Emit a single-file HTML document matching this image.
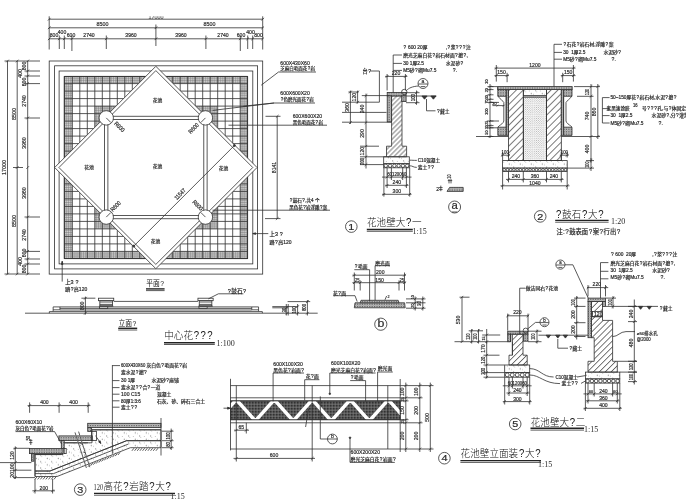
<!DOCTYPE html>
<html><head><meta charset="utf-8"><title>CAD</title>
<style>
html,body{margin:0;padding:0;background:#fff;}
svg{display:block;filter:grayscale(1);}
.d line,.d polyline,.d polygon,.d rect,.d circle,.d path{stroke:#303030;stroke-width:0.8;}
svg text{font-family:"Liberation Sans","Noto Sans CJK SC",sans-serif;fill:#2a2a2a;stroke:#2a2a2a;stroke-width:0.2;}
svg text.ti{font-weight:300;fill:#111;stroke:none;}
svg text.ti2{fill:#111;stroke:none;}
svg text.sr{stroke:none;font-family:"Liberation Serif","Noto Serif CJK SC",serif;}
.d .t{stroke-width:1.4;stroke:#222;}
.d .g line{stroke:#333;stroke-width:0.82;}
.d .ns{stroke:none;}
</style></head><body>
<svg width="686" height="500" viewBox="0 0 686 500">
<defs>

<pattern id="fine" width="1.875" height="1.875" patternUnits="userSpaceOnUse" x="64.3" y="76.4">
<rect x="0" y="0" width="1.875" height="1.875" fill="#d2d2d2" stroke="none"/>
<path d="M0 0.3H1.875M0.3 0V1.875" stroke="#707070" stroke-width="0.5" fill="none"/>
</pattern>
<pattern id="diag" width="3.4" height="3.4" patternUnits="userSpaceOnUse" patternTransform="rotate(-45)">
<line x1="0" y1="1.7" x2="3.4" y2="1.7" stroke="#3c3c3c" stroke-width="0.68"/>
</pattern>
<pattern id="diag2" width="4.9" height="4.9" patternUnits="userSpaceOnUse" patternTransform="rotate(-45)">
<line x1="0" y1="2.45" x2="4.9" y2="2.45" stroke="#3c3c3c" stroke-width="0.68"/>
</pattern>
<pattern id="diag5" width="4.2" height="4.2" patternUnits="userSpaceOnUse" patternTransform="rotate(-45)">
<line x1="0" y1="2.1" x2="4.2" y2="2.1" stroke="#3c3c3c" stroke-width="0.68"/>
</pattern>
<pattern id="dots" width="1.6" height="1.6" patternUnits="userSpaceOnUse">
<rect x="0" y="0" width="1.6" height="1.6" fill="#e4e4e4" stroke="none"/>
<circle cx="0.5" cy="0.5" r="0.45" fill="#555" stroke="none"/>
</pattern>
<pattern id="dots2" width="2.2" height="2.2" patternUnits="userSpaceOnUse">
<circle cx="0.6" cy="0.6" r="0.4" fill="#777" stroke="none"/>
<circle cx="1.7" cy="1.7" r="0.4" fill="#777" stroke="none"/>
</pattern>
<pattern id="conc" width="11" height="6.4" patternUnits="userSpaceOnUse">
<circle cx="1.2" cy="1.5" r="0.35" fill="#444" stroke="none"/>
<circle cx="5.6" cy="4.6" r="0.35" fill="#444" stroke="none"/>
<circle cx="8.9" cy="2.2" r="0.3" fill="#444" stroke="none"/>
<path d="M3 3.6l1 .5l-.9 .4zM7 .8l.9 -.3l.1 .8z" fill="none" stroke="#555" stroke-width="0.35"/>
</pattern>
<pattern id="grav" width="3" height="3" patternUnits="userSpaceOnUse">
<circle cx="1.5" cy="1.5" r="1.1" fill="none" stroke="#444" stroke-width="0.5"/>
</pattern>
<pattern id="dark" width="1.5" height="1.5" patternUnits="userSpaceOnUse">
<rect x="0" y="0" width="1.5" height="1.5" fill="#787878" stroke="none"/>
<circle cx="0.45" cy="0.45" r="0.58" fill="#1c1c1c" stroke="none"/>
</pattern>
<clipPath id="c17"><rect x="130" y="16.3" width="60" height="5"/></clipPath>
<clipPath id="zz"><rect x="230.5" y="400.9" width="169.7" height="18.8"/></clipPath>
<pattern id="stone" width="1.7" height="1.7" patternUnits="userSpaceOnUse">
<rect x="0" y="0" width="1.7" height="1.7" fill="#cfcfcf" stroke="none"/>
<circle cx="0.5" cy="0.5" r="0.5" fill="#3a3a3a" stroke="none"/>
<circle cx="1.35" cy="1.3" r="0.3" fill="#555" stroke="none"/>
</pattern>

</defs>
<g class="d">
<line x1="49.2" y1="19.2" x2="262.7" y2="19.2"/>
<line x1="49.2" y1="27.8" x2="262.7" y2="27.8"/>
<line x1="49.2" y1="38.8" x2="262.7" y2="38.8"/>
<line x1="49.2" y1="16.3" x2="49.2" y2="49.5"/>
<line x1="262.7" y1="16.3" x2="262.7" y2="49.5"/>
<line x1="155.9" y1="24.5" x2="155.9" y2="46"/>
<line x1="59.3" y1="35.5" x2="59.3" y2="49"/>
<line x1="64.3" y1="35.5" x2="64.3" y2="49"/>
<line x1="71.9" y1="35.5" x2="71.9" y2="51"/>
<line x1="106.3" y1="35.5" x2="106.3" y2="49"/>
<line x1="205.9" y1="35.5" x2="205.9" y2="49"/>
<line x1="240.3" y1="35.5" x2="240.3" y2="51"/>
<line x1="247.7" y1="35.5" x2="247.7" y2="49"/>
<line x1="252.7" y1="35.5" x2="252.7" y2="49"/>
<line x1="47.9" y1="20.5" x2="50.5" y2="17.9" stroke-width="1.1"/>
<line x1="47.9" y1="29.1" x2="50.5" y2="26.5" stroke-width="1.1"/>
<line x1="47.9" y1="40.1" x2="50.5" y2="37.5" stroke-width="1.1"/>
<line x1="261.4" y1="20.5" x2="264" y2="17.9" stroke-width="1.1"/>
<line x1="261.4" y1="29.1" x2="264" y2="26.5" stroke-width="1.1"/>
<line x1="261.4" y1="40.1" x2="264" y2="37.5" stroke-width="1.1"/>
<line x1="154.6" y1="29.1" x2="157.2" y2="26.5" stroke-width="1.1"/>
<line x1="58" y1="40.1" x2="60.6" y2="37.5" stroke-width="1.1"/>
<line x1="63" y1="40.1" x2="65.6" y2="37.5" stroke-width="1.1"/>
<line x1="70.6" y1="40.1" x2="73.2" y2="37.5" stroke-width="1.1"/>
<line x1="105" y1="40.1" x2="107.6" y2="37.5" stroke-width="1.1"/>
<line x1="154.6" y1="40.1" x2="157.2" y2="37.5" stroke-width="1.1"/>
<line x1="204.6" y1="40.1" x2="207.2" y2="37.5" stroke-width="1.1"/>
<line x1="239" y1="40.1" x2="241.6" y2="37.5" stroke-width="1.1"/>
<line x1="246.4" y1="40.1" x2="249" y2="37.5" stroke-width="1.1"/>
<line x1="251.4" y1="40.1" x2="254" y2="37.5" stroke-width="1.1"/>
<g clip-path="url(#c17)" opacity="0.75">
<text transform="translate(156 18.8) scale(0.86 1)" font-size="6.27" text-anchor="middle">17000</text>
</g>
<text transform="translate(102.5 26.3) scale(0.86 1)" font-size="6.27" text-anchor="middle">8500</text>
<text transform="translate(209.5 26.3) scale(0.86 1)" font-size="6.27" text-anchor="middle">8500</text>
<text transform="translate(54 37.3) scale(0.86 1)" font-size="5.93" text-anchor="middle">800</text>
<text transform="translate(62 33.6) scale(0.86 1)" font-size="5.93" text-anchor="middle">400</text>
<text transform="translate(71 37.3) scale(0.86 1)" font-size="5.93" text-anchor="middle">600</text>
<text transform="translate(89 37.3) scale(0.86 1)" font-size="5.93" text-anchor="middle">2740</text>
<text transform="translate(131 37.3) scale(0.86 1)" font-size="5.93" text-anchor="middle">3960</text>
<text transform="translate(181 37.3) scale(0.86 1)" font-size="5.93" text-anchor="middle">3960</text>
<text transform="translate(223 37.3) scale(0.86 1)" font-size="5.93" text-anchor="middle">2740</text>
<text transform="translate(241 37.3) scale(0.86 1)" font-size="5.93" text-anchor="middle">600</text>
<text transform="translate(250.5 33.6) scale(0.86 1)" font-size="5.93" text-anchor="middle">400</text>
<text transform="translate(258.5 37.3) scale(0.86 1)" font-size="5.93" text-anchor="middle">800</text>
<line x1="7.5" y1="61" x2="7.5" y2="274"/>
<line x1="17.2" y1="61" x2="17.2" y2="274"/>
<line x1="27.7" y1="61" x2="27.7" y2="274"/>
<line x1="4.5" y1="61" x2="40" y2="61"/>
<line x1="4.5" y1="274" x2="40" y2="274"/>
<line x1="13" y1="167.5" x2="23" y2="167.5"/>
<line x1="24.5" y1="71" x2="40" y2="71"/>
<line x1="24.5" y1="76" x2="40" y2="76"/>
<line x1="24.5" y1="83.6" x2="40" y2="83.6"/>
<line x1="24.5" y1="118" x2="40" y2="118"/>
<line x1="24.5" y1="217" x2="40" y2="217"/>
<line x1="24.5" y1="251.4" x2="40" y2="251.4"/>
<line x1="24.5" y1="259" x2="40" y2="259"/>
<line x1="24.5" y1="264" x2="40" y2="264"/>
<line x1="6.2" y1="62.3" x2="8.8" y2="59.7" stroke-width="1.1"/>
<line x1="15.9" y1="62.3" x2="18.5" y2="59.7" stroke-width="1.1"/>
<line x1="26.4" y1="62.3" x2="29" y2="59.7" stroke-width="1.1"/>
<line x1="6.2" y1="275.3" x2="8.8" y2="272.7" stroke-width="1.1"/>
<line x1="15.9" y1="275.3" x2="18.5" y2="272.7" stroke-width="1.1"/>
<line x1="26.4" y1="275.3" x2="29" y2="272.7" stroke-width="1.1"/>
<line x1="15.9" y1="168.8" x2="18.5" y2="166.2" stroke-width="1.1"/>
<line x1="26.4" y1="72.3" x2="29" y2="69.7" stroke-width="1.1"/>
<line x1="26.4" y1="77.3" x2="29" y2="74.7" stroke-width="1.1"/>
<line x1="26.4" y1="84.9" x2="29" y2="82.3" stroke-width="1.1"/>
<line x1="26.4" y1="119.3" x2="29" y2="116.7" stroke-width="1.1"/>
<line x1="26.4" y1="168.8" x2="29" y2="166.2" stroke-width="1.1"/>
<line x1="26.4" y1="218.3" x2="29" y2="215.7" stroke-width="1.1"/>
<line x1="26.4" y1="252.7" x2="29" y2="250.1" stroke-width="1.1"/>
<line x1="26.4" y1="260.3" x2="29" y2="257.7" stroke-width="1.1"/>
<line x1="26.4" y1="265.3" x2="29" y2="262.7" stroke-width="1.1"/>
<text transform="translate(6 167.5) rotate(-90) scale(0.86 1)" font-size="6.27" text-anchor="middle">17000</text>
<text transform="translate(15.7 114) rotate(-90) scale(0.86 1)" font-size="6.27" text-anchor="middle">8500</text>
<text transform="translate(15.7 221) rotate(-90) scale(0.86 1)" font-size="6.27" text-anchor="middle">8500</text>
<text transform="translate(26.2 66) rotate(-90) scale(0.86 1)" font-size="5.93" text-anchor="middle">800</text>
<text transform="translate(22.4 73.5) rotate(-90) scale(0.86 1)" font-size="5.93" text-anchor="middle">400</text>
<text transform="translate(26.2 82) rotate(-90) scale(0.86 1)" font-size="5.93" text-anchor="middle">600</text>
<text transform="translate(26.2 101) rotate(-90) scale(0.86 1)" font-size="5.93" text-anchor="middle">2740</text>
<text transform="translate(26.2 143) rotate(-90) scale(0.86 1)" font-size="5.93" text-anchor="middle">3960</text>
<text transform="translate(26.2 193) rotate(-90) scale(0.86 1)" font-size="5.93" text-anchor="middle">3960</text>
<text transform="translate(26.2 235) rotate(-90) scale(0.86 1)" font-size="5.93" text-anchor="middle">2740</text>
<text transform="translate(26.2 253) rotate(-90) scale(0.86 1)" font-size="5.93" text-anchor="middle">600</text>
<text transform="translate(22.4 261.5) rotate(-90) scale(0.86 1)" font-size="5.93" text-anchor="middle">400</text>
<text transform="translate(26.2 269) rotate(-90) scale(0.86 1)" font-size="5.93" text-anchor="middle">800</text>
<rect x="49.2" y="61" width="213.5" height="213.1" fill="none"/>
<rect x="54.6" y="65.8" width="203" height="203.1" fill="none"/>
<rect x="59.1" y="71" width="193.7" height="192.9" fill="none"/>
<g class="g">
<path d="M64.3 76.4H247.6V258.6H64.3ZM72.3 83.6V251.4H240.2V83.6Z" fill="url(#fine)" fill-rule="evenodd" stroke="none" class="ns"/>
<path d="M94.8 106.1H217.6V228.8H94.8ZM102.3 113.6V221.3H210.1V113.6Z" fill="url(#fine)" fill-rule="evenodd" stroke="none" class="ns"/>
<line x1="64.3" y1="76.4" x2="64.3" y2="258.6"/>
<line x1="72.3" y1="76.4" x2="72.3" y2="258.6"/>
<line x1="79.8" y1="76.4" x2="79.8" y2="258.6"/>
<line x1="87.3" y1="76.4" x2="87.3" y2="258.6"/>
<line x1="94.8" y1="76.4" x2="94.8" y2="258.6"/>
<line x1="102.3" y1="76.4" x2="102.3" y2="258.6"/>
<line x1="109.8" y1="76.4" x2="109.8" y2="258.6"/>
<line x1="117.3" y1="76.4" x2="117.3" y2="258.6"/>
<line x1="124.8" y1="76.4" x2="124.8" y2="258.6"/>
<line x1="132.3" y1="76.4" x2="132.3" y2="258.6"/>
<line x1="139.8" y1="76.4" x2="139.8" y2="258.6"/>
<line x1="147.3" y1="76.4" x2="147.3" y2="258.6"/>
<line x1="154.8" y1="76.4" x2="154.8" y2="258.6"/>
<line x1="247.6" y1="76.4" x2="247.6" y2="258.6"/>
<line x1="240.2" y1="76.4" x2="240.2" y2="258.6"/>
<line x1="232.7" y1="76.4" x2="232.7" y2="258.6"/>
<line x1="225.2" y1="76.4" x2="225.2" y2="258.6"/>
<line x1="217.7" y1="76.4" x2="217.7" y2="258.6"/>
<line x1="210.2" y1="76.4" x2="210.2" y2="258.6"/>
<line x1="202.7" y1="76.4" x2="202.7" y2="258.6"/>
<line x1="195.2" y1="76.4" x2="195.2" y2="258.6"/>
<line x1="187.7" y1="76.4" x2="187.7" y2="258.6"/>
<line x1="180.2" y1="76.4" x2="180.2" y2="258.6"/>
<line x1="172.7" y1="76.4" x2="172.7" y2="258.6"/>
<line x1="165.2" y1="76.4" x2="165.2" y2="258.6"/>
<line x1="157.7" y1="76.4" x2="157.7" y2="258.6"/>
<line x1="64.3" y1="76.4" x2="247.6" y2="76.4"/>
<line x1="64.3" y1="83.6" x2="247.6" y2="83.6"/>
<line x1="64.3" y1="91.1" x2="247.6" y2="91.1"/>
<line x1="64.3" y1="98.6" x2="247.6" y2="98.6"/>
<line x1="64.3" y1="106.1" x2="247.6" y2="106.1"/>
<line x1="64.3" y1="113.6" x2="247.6" y2="113.6"/>
<line x1="64.3" y1="121.1" x2="247.6" y2="121.1"/>
<line x1="64.3" y1="128.6" x2="247.6" y2="128.6"/>
<line x1="64.3" y1="136.1" x2="247.6" y2="136.1"/>
<line x1="64.3" y1="143.6" x2="247.6" y2="143.6"/>
<line x1="64.3" y1="151.1" x2="247.6" y2="151.1"/>
<line x1="64.3" y1="158.6" x2="247.6" y2="158.6"/>
<line x1="64.3" y1="166.1" x2="247.6" y2="166.1"/>
<line x1="64.3" y1="258.6" x2="247.6" y2="258.6"/>
<line x1="64.3" y1="251.4" x2="247.6" y2="251.4"/>
<line x1="64.3" y1="243.9" x2="247.6" y2="243.9"/>
<line x1="64.3" y1="236.4" x2="247.6" y2="236.4"/>
<line x1="64.3" y1="228.9" x2="247.6" y2="228.9"/>
<line x1="64.3" y1="221.4" x2="247.6" y2="221.4"/>
<line x1="64.3" y1="213.9" x2="247.6" y2="213.9"/>
<line x1="64.3" y1="206.4" x2="247.6" y2="206.4"/>
<line x1="64.3" y1="198.9" x2="247.6" y2="198.9"/>
<line x1="64.3" y1="191.4" x2="247.6" y2="191.4"/>
<line x1="64.3" y1="183.9" x2="247.6" y2="183.9"/>
<line x1="64.3" y1="176.4" x2="247.6" y2="176.4"/>
<line x1="64.3" y1="168.9" x2="247.6" y2="168.9"/>
</g>
<rect x="64.3" y="76.4" width="183.3" height="182.2" fill="none"/>
<polygon points="155.85,66.3 257.05,167.5 155.85,268.7 54.65,167.5" fill="#fff"/>
<polygon points="155.85,70.6 252.75,167.5 155.85,264.4 58.95,167.5" fill="none"/>
<rect x="104.6" y="116.25" width="102.5" height="102.5" fill="none"/>
<rect x="107.9" y="119.55" width="95.9" height="95.9" fill="none"/>
<circle cx="106.25" cy="117.9" r="7.2" fill="#fff"/>
<circle cx="106.25" cy="217.1" r="7.2" fill="#fff"/>
<circle cx="205.45" cy="117.9" r="7.2" fill="#fff"/>
<circle cx="205.45" cy="217.1" r="7.2" fill="#fff"/>
<line x1="106.25" y1="117.9" x2="110.85" y2="122.5" stroke-width="0.9"/>
<text transform="translate(113.75 124) rotate(45) scale(0.86 1)" font-size="5.93">R600</text>
<line x1="205.45" y1="117.9" x2="200.85" y2="122.5" stroke-width="0.9"/>
<text transform="translate(199.35 125.6) rotate(-45) scale(0.86 1)" font-size="5.93" text-anchor="end">R600</text>
<line x1="106.25" y1="217.1" x2="110.85" y2="212.5" stroke-width="0.9"/>
<text transform="translate(112.75 212) rotate(-45) scale(0.86 1)" font-size="5.93">R600</text>
<line x1="205.45" y1="217.1" x2="200.85" y2="212.5" stroke-width="0.9"/>
<text transform="translate(200.55 211) rotate(45) scale(0.86 1)" font-size="5.93" text-anchor="end">R600</text>
<text transform="translate(157.5 102)" font-size="4.8" text-anchor="middle">花池</text>
<text transform="translate(89 169.2)" font-size="4.8" text-anchor="middle">花池</text>
<text transform="translate(157.5 168.3)" font-size="4.8" text-anchor="middle">花池</text>
<text transform="translate(223.5 169.5)" font-size="4.8" text-anchor="middle">花池</text>
<text transform="translate(155.5 243)" font-size="4.8" text-anchor="middle">花池</text>
<line x1="133.6" y1="246.3" x2="234.6" y2="145.3"/>
<circle cx="133.8" cy="246.1" r="1" fill="#333" stroke="none"/>
<circle cx="234.4" cy="145.5" r="1" fill="#333" stroke="none"/>
<text transform="translate(181.5 195.5) rotate(-45) scale(0.86 1)" font-size="5.93" text-anchor="middle">11547</text>
<line x1="277.2" y1="116.3" x2="277.2" y2="218.6"/>
<line x1="265.5" y1="116.3" x2="280.5" y2="116.3"/>
<line x1="265" y1="218.6" x2="280.5" y2="218.6"/>
<line x1="275.9" y1="117.6" x2="278.5" y2="115" stroke-width="1.1"/>
<line x1="275.9" y1="219.9" x2="278.5" y2="217.3" stroke-width="1.1"/>
<text transform="translate(275.7 167.5) rotate(-90) scale(0.86 1)" font-size="5.93" text-anchor="middle">8141</text>
<text transform="translate(280.3 65.2) scale(0.86 1)" font-size="5.93">600X430X60</text>
<text transform="translate(280.3 70.4)" font-size="4.5">芝麻白毛面花<tspan dx="0.38">?</tspan><tspan dx="0.38">岩</tspan></text>
<line x1="278.5" y1="72" x2="316" y2="72"/>
<line x1="278.5" y1="72" x2="261.2" y2="85.2"/>
<text transform="translate(280.3 95.2) scale(0.86 1)" font-size="5.93">600X600X20</text>
<text transform="translate(280.3 100.6)" font-size="4.5"><tspan dx="0.38">?</tspan><tspan dx="0.38">色</tspan>磨光面花<tspan dx="0.38">?</tspan><tspan dx="0.38">岩</tspan></text>
<line x1="274" y1="103" x2="315" y2="103"/>
<line x1="274" y1="103" x2="212.7" y2="110.4"/>
<line x1="274" y1="103" x2="243.3" y2="106.2"/>
<text transform="translate(292.7 118.2) scale(0.86 1)" font-size="5.93">600X600X20</text>
<text transform="translate(292.7 123.6)" font-size="4.5">黑色毛面花<tspan dx="0.38">?</tspan><tspan dx="0.38">岩</tspan></text>
<line x1="228.5" y1="125.2" x2="327" y2="125.2"/>
<text transform="translate(289.3 201.8)" font-size="4.6"><tspan dx="0.39">?</tspan><tspan dx="0.39">鼓</tspan>石<tspan dx="0.39">?</tspan><tspan dx="0.39">,</tspan>共4 个</text>
<text transform="translate(289.3 209.4)" font-size="4.5">黑色花<tspan dx="0.38">?</tspan><tspan dx="0.38">岩</tspan>浮雕<tspan dx="0.38">?</tspan><tspan dx="0.38">案</tspan></text>
<line x1="212.5" y1="210.2" x2="330" y2="210.2"/>
<text transform="translate(269.5 236.3)" font-size="5.4">上3 <tspan dx="0.46">?</tspan></text>
<text transform="translate(269.5 243.8)" font-size="5">踏<tspan dx="0.43">?</tspan><tspan dx="0.43">高</tspan>120</text>
<line x1="252.8" y1="233.6" x2="268.3" y2="233.6"/>
<polygon points="252.8,233.6 255.6,232.8 255.6,234.4" fill="#333"/>
<line x1="62.2" y1="261.4" x2="62.2" y2="281.6"/>
<polygon points="62.2,261.2 61.4,264.4 63,264.4" fill="#333"/>
<text transform="translate(65.2 283.8)" font-size="5.4">上3 <tspan dx="0.46">?</tspan></text>
<text transform="translate(65.2 291)" font-size="5">踏<tspan dx="0.43">?</tspan><tspan dx="0.43">高</tspan>120</text>
<text transform="translate(146.2 286.3) scale(0.89 1)" x="0 7.64 15.84" font-size="7.62" class="ti2">平面?</text>
<line x1="146" y1="288.9" x2="164.6" y2="288.9" class="t"/>
<line x1="146" y1="290.6" x2="164.6" y2="290.6"/>
<line x1="25" y1="313.2" x2="317.7" y2="313.2" stroke-width="1.1"/>
<polyline points="262.35,313.2 262.35,311.6 258.55,311.6 258.55,306.9 251.75,306.9 251.75,309.8 258.55,309.8" fill="none"/>
<polyline points="49.35,313.2 49.35,311.6 53.15,311.6 53.15,306.9 59.95,306.9 59.95,309.8 53.15,309.8" fill="none"/>
<line x1="53.15" y1="311.6" x2="258.55" y2="311.6"/>
<line x1="59.95" y1="306.9" x2="251.75" y2="306.9" stroke-width="0.7"/>
<line x1="59.95" y1="308.4" x2="251.75" y2="308.4" stroke-width="0.7"/>
<line x1="59.95" y1="310" x2="251.75" y2="310" stroke-width="0.7"/>
<line x1="113.75" y1="301.4" x2="197.95" y2="301.4"/>
<rect x="98.55" y="298.2" width="15.2" height="2.5" fill="#fff"/>
<rect x="99.85" y="300.7" width="12.6" height="5.1" fill="#fff"/>
<line x1="99.85" y1="302" x2="112.45" y2="302"/>
<line x1="99.85" y1="304.4" x2="112.45" y2="304.4" stroke-width="0.6"/>
<line x1="98.95" y1="306.2" x2="113.35" y2="306.2" stroke-width="1.4"/>
<rect x="99.55" y="306.9" width="8.2" height="1.5" fill="#fff"/>
<rect x="197.95" y="298.2" width="15.2" height="2.5" fill="#fff"/>
<rect x="199.25" y="300.7" width="12.6" height="5.1" fill="#fff"/>
<line x1="199.25" y1="302" x2="211.85" y2="302"/>
<line x1="199.25" y1="304.4" x2="211.85" y2="304.4" stroke-width="0.6"/>
<line x1="198.35" y1="306.2" x2="212.75" y2="306.2" stroke-width="1.4"/>
<rect x="198.95" y="306.9" width="8.2" height="1.5" fill="#fff"/>
<line x1="85.4" y1="296.6" x2="85.4" y2="314.6"/>
<line x1="81.4" y1="298.2" x2="95.4" y2="298.2"/>
<line x1="84.1" y1="299.5" x2="86.7" y2="296.9" stroke-width="1.1"/>
<line x1="84.1" y1="314.5" x2="86.7" y2="311.9" stroke-width="1.1"/>
<text transform="translate(83.9 305.8) rotate(-90) scale(0.86 1)" font-size="5.93" text-anchor="middle">800</text>
<text transform="translate(227.2 293)" font-size="5.6"><tspan dx="0.48">?</tspan><tspan dx="0.48">鼓</tspan>石<tspan dx="0.48">?</tspan></text>
<polyline points="208.3,298.9 218.4,293.8 243.4,293.8" fill="none"/>
<line x1="287.6" y1="301.6" x2="310.2" y2="301.6"/>
<line x1="272.3" y1="306.6" x2="298.2" y2="306.6"/>
<line x1="272.3" y1="307.8" x2="288" y2="307.8"/>
<line x1="286.3" y1="304" x2="286.3" y2="315.5"/>
<line x1="288.2" y1="304" x2="288.2" y2="315.5"/>
<line x1="297.6" y1="304" x2="297.6" y2="315.5"/>
<line x1="307.4" y1="300" x2="307.4" y2="315.5"/>
<line x1="306.1" y1="302.9" x2="308.7" y2="300.3" stroke-width="1.1"/>
<line x1="306.1" y1="314.5" x2="308.7" y2="311.9" stroke-width="1.1"/>
<line x1="296.3" y1="307.9" x2="298.9" y2="305.3" stroke-width="1.1"/>
<line x1="296.3" y1="314.5" x2="298.9" y2="311.9" stroke-width="1.1"/>
<line x1="285.9" y1="314.5" x2="288.5" y2="311.9" stroke-width="1.1"/>
<line x1="285.9" y1="308.5" x2="288.5" y2="305.9" stroke-width="1.1"/>
<text transform="translate(285.6 310) rotate(-90) scale(0.86 1)" font-size="5.02" text-anchor="middle">30</text>
<text transform="translate(296 310) rotate(-90) scale(0.86 1)" font-size="5.02" text-anchor="middle">100</text>
<text transform="translate(305.8 307.5) rotate(-90) scale(0.86 1)" font-size="5.02" text-anchor="middle">800</text>
<text transform="translate(118.4 326.4) scale(0.89 1)" x="0 7.64 15.84" font-size="7.62" class="ti2">立面?</text>
<line x1="118.2" y1="328.3" x2="137.2" y2="328.3" class="t"/>
<line x1="118.2" y1="330" x2="137.2" y2="330"/>
<text transform="translate(164.2 338.8) scale(0.89 1)" x="0 10.79 21.57 33.15 40.7 48.25" font-size="10.75" class="ti">中心花???</text>
<line x1="164" y1="342.8" x2="214.8" y2="342.8" class="t"/>
<line x1="164" y1="344.5" x2="214.8" y2="344.5"/>
<text transform="translate(216.6 346.4)" font-size="8" class="sr">1:100</text>
<polygon points="35,454.5 63,454.5 63,442.8 92,442.8 92,429.8 161,429.8 161,440.7 126.6,440.7 50,471 35,471" fill="url(#conc)"/>
<polygon points="35,471 50,471 126.6,440.7 161,440.7 161,447.7 130.3,447.7 57,476.5 35,476.5" fill="url(#conc)"/>
<polyline points="35,473.6 53.5,473.6 128.5,444" fill="none" stroke-width="0.5"/>
<line x1="37" y1="476.8" x2="34.92" y2="479.4" stroke-width="0.6"/>
<line x1="39.71" y1="476.8" x2="37.63" y2="479.4" stroke-width="0.6"/>
<line x1="42.43" y1="476.8" x2="40.35" y2="479.4" stroke-width="0.6"/>
<line x1="45.14" y1="476.8" x2="43.06" y2="479.4" stroke-width="0.6"/>
<line x1="47.86" y1="476.8" x2="45.78" y2="479.4" stroke-width="0.6"/>
<line x1="50.57" y1="476.8" x2="48.49" y2="479.4" stroke-width="0.6"/>
<line x1="53.29" y1="476.8" x2="51.21" y2="479.4" stroke-width="0.6"/>
<line x1="56" y1="476.8" x2="53.92" y2="479.4" stroke-width="0.6"/>
<line x1="90" y1="464.2" x2="87.92" y2="466.8" stroke-width="0.6"/>
<line x1="92.73" y1="463.13" x2="90.65" y2="465.73" stroke-width="0.6"/>
<line x1="95.45" y1="462.05" x2="93.37" y2="464.65" stroke-width="0.6"/>
<line x1="98.18" y1="460.98" x2="96.1" y2="463.58" stroke-width="0.6"/>
<line x1="100.91" y1="459.91" x2="98.83" y2="462.51" stroke-width="0.6"/>
<line x1="103.64" y1="458.84" x2="101.56" y2="461.44" stroke-width="0.6"/>
<line x1="106.36" y1="457.76" x2="104.28" y2="460.36" stroke-width="0.6"/>
<line x1="109.09" y1="456.69" x2="107.01" y2="459.29" stroke-width="0.6"/>
<line x1="111.82" y1="455.62" x2="109.74" y2="458.22" stroke-width="0.6"/>
<line x1="114.55" y1="454.55" x2="112.47" y2="457.15" stroke-width="0.6"/>
<line x1="117.27" y1="453.47" x2="115.19" y2="456.07" stroke-width="0.6"/>
<line x1="120" y1="452.4" x2="117.92" y2="455" stroke-width="0.6"/>
<line x1="134" y1="448.2" x2="131.92" y2="450.8" stroke-width="0.6"/>
<line x1="136.67" y1="448.2" x2="134.59" y2="450.8" stroke-width="0.6"/>
<line x1="139.33" y1="448.2" x2="137.25" y2="450.8" stroke-width="0.6"/>
<line x1="142" y1="448.2" x2="139.92" y2="450.8" stroke-width="0.6"/>
<line x1="144.67" y1="448.2" x2="142.59" y2="450.8" stroke-width="0.6"/>
<line x1="147.33" y1="448.2" x2="145.25" y2="450.8" stroke-width="0.6"/>
<line x1="150" y1="448.2" x2="147.92" y2="450.8" stroke-width="0.6"/>
<line x1="152.67" y1="448.2" x2="150.59" y2="450.8" stroke-width="0.6"/>
<line x1="155.33" y1="448.2" x2="153.25" y2="450.8" stroke-width="0.6"/>
<line x1="158" y1="448.2" x2="155.92" y2="450.8" stroke-width="0.6"/>
<rect x="29.4" y="448.4" width="33.6" height="5.2" fill="url(#stone)"/>
<rect x="58.9" y="435.9" width="33.4" height="4.7" fill="url(#stone)"/>
<rect x="87.7" y="423.3" width="73.3" height="4.3" fill="url(#stone)"/>
<line x1="33.9" y1="454.6" x2="61.3" y2="454.6" stroke-width="0.5"/>
<line x1="64.2" y1="442.8" x2="88" y2="442.8" stroke-width="0.5"/>
<line x1="91.5" y1="429.8" x2="161" y2="429.8" stroke-width="0.5"/>
<rect x="31.4" y="453.6" width="2.5" height="7.6" fill="url(#stone)"/>
<rect x="61.3" y="440.6" width="2.9" height="7.8" fill="url(#stone)"/>
<rect x="87.7" y="427.6" width="3.8" height="3.8" fill="url(#stone)"/>
<line x1="35" y1="454.5" x2="35" y2="476.4"/>
<rect x="91.5" y="431.4" width="5" height="9.2" fill="none"/>
<rect x="64.2" y="448.4" width="2" height="5.2" fill="none"/>
<path d="M75 432.4L86.4 468M78.6 431.6L89.8 467.2" fill="none" stroke-width="2.6" style="stroke:#fff"/>
<line x1="75" y1="432.4" x2="86.4" y2="468"/>
<line x1="78.6" y1="431.6" x2="89.8" y2="467.2"/>
<line x1="80.5" y1="443.5" x2="83" y2="444.5"/>
<line x1="83.2" y1="452" x2="85.6" y2="453"/>
<line x1="161" y1="418" x2="161" y2="455.5"/>
<line x1="171.2" y1="428.6" x2="171.2" y2="450"/>
<line x1="162" y1="431.2" x2="173.5" y2="431.2"/>
<line x1="169.9" y1="432.5" x2="172.5" y2="429.9" stroke-width="1.1"/>
<line x1="162" y1="440.7" x2="173.5" y2="440.7"/>
<line x1="169.9" y1="442" x2="172.5" y2="439.4" stroke-width="1.1"/>
<line x1="162" y1="447.7" x2="173.5" y2="447.7"/>
<line x1="169.9" y1="449" x2="172.5" y2="446.4" stroke-width="1.1"/>
<text transform="translate(169.6 436) rotate(-90) scale(0.86 1)" font-size="4.79" text-anchor="middle">100</text>
<text transform="translate(169.6 444.4) rotate(-90) scale(0.86 1)" font-size="4.79" text-anchor="middle">80</text>
<line x1="96.8" y1="437.5" x2="100.6" y2="443.2"/>
<polygon points="100.8,443.5 98.6,441.8 100.2,440.8" fill="#333"/>
<line x1="27.6" y1="405.6" x2="90.4" y2="405.6"/>
<line x1="29.6" y1="402.4" x2="29.6" y2="412.8"/>
<line x1="28.3" y1="406.9" x2="30.9" y2="404.3" stroke-width="1.1"/>
<line x1="59.1" y1="402.4" x2="59.1" y2="412.8"/>
<line x1="57.8" y1="406.9" x2="60.4" y2="404.3" stroke-width="1.1"/>
<line x1="88.2" y1="402.4" x2="88.2" y2="412.8"/>
<line x1="86.9" y1="406.9" x2="89.5" y2="404.3" stroke-width="1.1"/>
<text transform="translate(44.4 404.4) scale(0.86 1)" font-size="5.93" text-anchor="middle">400</text>
<text transform="translate(73.6 404.4) scale(0.86 1)" font-size="5.93" text-anchor="middle">400</text>
<text transform="translate(15.5 424) scale(0.86 1)" font-size="5.93">600X60X10</text>
<text transform="translate(15.5 430.4)" font-size="4.5">灰白色<tspan dx="0.38">?</tspan><tspan dx="0.38">毛</tspan>面花<tspan dx="0.38">?</tspan><tspan dx="0.38">岩</tspan></text>
<polyline points="15.5,431.6 54.6,431.6 61.6,444" fill="none"/>
<text transform="translate(29.6 438.2) rotate(-90) scale(0.86 1)" font-size="4.79" text-anchor="middle">50</text>
<line x1="30.8" y1="439" x2="30.8" y2="445"/>
<line x1="29.2" y1="440.4" x2="32.4" y2="440.4" stroke-width="1"/>
<line x1="29.2" y1="442.6" x2="32.4" y2="442.6" stroke-width="1"/>
<line x1="15.3" y1="446.4" x2="15.3" y2="479"/>
<line x1="13.4" y1="448.3" x2="29.4" y2="448.3"/>
<line x1="0" y1="462.6" x2="31.4" y2="462.6"/>
<line x1="13.4" y1="470.2" x2="31.4" y2="470.2"/>
<line x1="13.4" y1="477.6" x2="35" y2="477.6"/>
<line x1="14" y1="449.6" x2="16.6" y2="447" stroke-width="1.1"/>
<line x1="14" y1="463.9" x2="16.6" y2="461.3" stroke-width="1.1"/>
<line x1="14" y1="471.5" x2="16.6" y2="468.9" stroke-width="1.1"/>
<line x1="14" y1="478.9" x2="16.6" y2="476.3" stroke-width="1.1"/>
<text transform="translate(13.8 455.6) rotate(-90) scale(0.86 1)" font-size="5.93" text-anchor="middle">120</text>
<text transform="translate(13.8 470.6) rotate(-90) scale(0.86 1)" font-size="5.93" text-anchor="middle">20100</text>
<line x1="32.4" y1="490.8" x2="55" y2="490.8"/>
<line x1="35" y1="479" x2="35" y2="493.5"/>
<line x1="52.6" y1="479" x2="52.6" y2="493.5"/>
<line x1="33.7" y1="492.1" x2="36.3" y2="489.5" stroke-width="1.1"/>
<line x1="51.3" y1="492.1" x2="53.9" y2="489.5" stroke-width="1.1"/>
<text transform="translate(43.8 489.6) scale(0.86 1)" font-size="5.93" text-anchor="middle">200</text>
<line x1="112.4" y1="365" x2="112.4" y2="453.8"/>
<line x1="112.4" y1="365.6" x2="120" y2="365.6"/>
<line x1="112.4" y1="380.6" x2="119.5" y2="380.6"/>
<line x1="112.4" y1="387.6" x2="119.5" y2="387.6"/>
<line x1="112.4" y1="394.2" x2="119.5" y2="394.2"/>
<line x1="112.4" y1="400.8" x2="119.5" y2="400.8"/>
<line x1="112.4" y1="407.2" x2="119.5" y2="407.2"/>
<text transform="translate(121 367.2) scale(0.86 1)" font-size="4.9">600X430X60</text>
<text transform="translate(146.5 367.4)" font-size="4.8">灰白色<tspan dx="0.41">?</tspan><tspan dx="0.41">毛</tspan>面花<tspan dx="0.41">?</tspan><tspan dx="0.41">岩</tspan></text>
<text transform="translate(121 374.4)" font-size="4.8">素水泥<tspan dx="0.41">?</tspan><tspan dx="0.41">擦</tspan><tspan dx="0.41">?</tspan></text>
<text transform="translate(121 382.4)" font-size="4.8">30  1厚</text>
<text transform="translate(151.4 382.4)" font-size="4.8">水泥砂<tspan dx="0.41">?</tspan><tspan dx="0.41">座</tspan>铺</text>
<text transform="translate(121 389.4)" font-size="4.8">素水泥<tspan dx="0.41">?</tspan><tspan dx="0.82">?</tspan><tspan dx="0.41">合</tspan><tspan dx="0.41">?</tspan><tspan dx="0.41">一</tspan>道</text>
<text transform="translate(121 396) scale(0.86 1)" font-size="5.93">100  C15</text>
<text transform="translate(157 396)" font-size="4.8">混凝土</text>
<text transform="translate(121 402.6)" font-size="4.6">80厚1:3:6</text>
<text transform="translate(157 402.6)" font-size="4.8">石灰、砂、碎石三合土</text>
<text transform="translate(121 409)" font-size="4.8">素土<tspan dx="0.41">?</tspan><tspan dx="0.82">?</tspan></text>
<circle cx="80.2" cy="489.6" r="5.8" fill="none" stroke-width="1"/>
<text transform="translate(80.2 492.6) scale(1.25 1)" font-size="8.66" text-anchor="middle">3</text>
<text transform="translate(93.6 490.4) scale(0.85 1)" font-size="7.6" class="sr">120</text>
<text transform="translate(103.4 490.4) scale(0.89 1)" x="0 10.79 22.36 29.12 39.91 51.48 58.25 69.82" font-size="10.75" class="ti">高花?岩踏?大?</text>
<line x1="94" y1="493.4" x2="175" y2="493.4" class="t"/>
<line x1="94" y1="495.2" x2="175" y2="495.2"/>
<text transform="translate(170.5 499.4)" font-size="8" class="sr">1:15</text>
<rect x="230.5" y="400.9" width="169.7" height="18.8" fill="url(#dark)"/>
<polyline points="198.3,399.7 217.3,420.9 236.3,399.7 255.3,420.9 274.3,399.7 293.3,420.9 312.3,399.7 331.3,420.9 350.3,399.7 369.3,420.9 388.3,399.7 407.3,420.9 426.3,399.7" fill="none" style="stroke:#fff;stroke-width:3.5" clip-path="url(#zz)"/>
<line x1="230.5" y1="378.8" x2="230.5" y2="450.4"/>
<line x1="230.5" y1="385.6" x2="400.2" y2="385.6"/>
<line x1="230.5" y1="397.8" x2="400.2" y2="397.8"/>
<line x1="230.5" y1="400.9" x2="400.2" y2="400.9"/>
<line x1="230.5" y1="419.7" x2="400.2" y2="419.7"/>
<line x1="230.5" y1="422.8" x2="400.2" y2="422.8"/>
<line x1="230.5" y1="449" x2="400.2" y2="449"/>
<line x1="236.3" y1="385.6" x2="236.3" y2="461.5"/>
<line x1="312.2" y1="385.6" x2="312.2" y2="461.5"/>
<line x1="387.8" y1="385.6" x2="387.8" y2="449"/>
<line x1="400.2" y1="379" x2="400.2" y2="452"/>
<line x1="223.5" y1="408.2" x2="229.5" y2="408.2"/>
<polygon points="230.3,408.2 227.6,407.2 227.6,409.2" fill="#333"/>
<line x1="234" y1="430.2" x2="249" y2="430.2"/>
<line x1="246.3" y1="422.8" x2="246.3" y2="433.5"/>
<line x1="235" y1="431.5" x2="237.6" y2="428.9" stroke-width="1.1"/>
<line x1="245" y1="431.5" x2="247.6" y2="428.9" stroke-width="1.1"/>
<text transform="translate(241.3 429) scale(0.86 1)" font-size="5.93" text-anchor="middle">65</text>
<line x1="233.5" y1="458.4" x2="315" y2="458.4"/>
<line x1="235" y1="459.7" x2="237.6" y2="457.1" stroke-width="1.1"/>
<line x1="310.9" y1="459.7" x2="313.5" y2="457.1" stroke-width="1.1"/>
<text transform="translate(274 457) scale(0.86 1)" font-size="5.93" text-anchor="middle">600</text>
<text transform="translate(273.3 365.6) scale(0.86 1)" font-size="5.93">600X100X30</text>
<text transform="translate(273.3 371.6)" font-size="4.8">黑色花<tspan dx="0.41">?</tspan><tspan dx="0.41">岩</tspan>面<tspan dx="0.41">?</tspan></text>
<line x1="273.1" y1="373" x2="304" y2="373"/>
<line x1="273.1" y1="373" x2="273.1" y2="401.4"/>
<text transform="translate(305.8 378.4)" font-size="4.8">花<tspan dx="0.41">?</tspan><tspan dx="0.41">面</tspan></text>
<line x1="304.7" y1="379.7" x2="319.4" y2="379.7"/>
<line x1="304.7" y1="379.7" x2="304.7" y2="400.4"/>
<text transform="translate(331 364.6) scale(0.86 1)" font-size="5.93">600X100X20</text>
<text transform="translate(331 371.6)" font-size="4.8">磨光芝麻白花<tspan dx="0.41">?</tspan><tspan dx="0.41">岩</tspan>面<tspan dx="0.41">?</tspan></text>
<line x1="329.8" y1="373" x2="375.6" y2="373"/>
<line x1="329.8" y1="373" x2="329.8" y2="393.8"/>
<circle cx="329.8" cy="393.8" r="0.8" fill="#333" stroke="none"/>
<text transform="translate(350.4 379.4)" font-size="4.8"><tspan dx="0.41">?</tspan><tspan dx="0.41">毛</tspan>面</text>
<line x1="350.2" y1="380.6" x2="365.6" y2="380.6"/>
<line x1="365.6" y1="380.6" x2="365.6" y2="401.4"/>
<text transform="translate(377.8 370.2)" font-size="4.8">磨光面</text>
<line x1="377.6" y1="372" x2="392.8" y2="372"/>
<line x1="377.6" y1="372" x2="377.6" y2="401.4"/>
<text transform="translate(350.6 454.2) scale(0.86 1)" font-size="5.93">600X200X20</text>
<text transform="translate(350.6 460.6)" font-size="4.8">磨光芝麻白花<tspan dx="0.41">?</tspan><tspan dx="0.41">岩</tspan>面<tspan dx="0.41">?</tspan></text>
<line x1="350" y1="462.4" x2="394.8" y2="462.4"/>
<line x1="350" y1="437.7" x2="350" y2="462.4"/>
<circle cx="350" cy="437.7" r="0.8" fill="#333" stroke="none"/>
<line x1="320.3" y1="396.4" x2="320.3" y2="439"/>
<line x1="320.3" y1="439" x2="337.4" y2="439"/>
<circle cx="332.4" cy="439" r="4.9" fill="#fff"/>
<line x1="327.6" y1="439" x2="337.2" y2="439"/>
<text transform="translate(332.4 437.8) scale(0.86 1)" font-size="5.93" text-anchor="middle">b</text>
<line x1="308.5" y1="409" x2="305.6" y2="427" stroke-width="0.7"/>
<line x1="405.8" y1="382.6" x2="405.8" y2="452"/>
<line x1="419.8" y1="382.6" x2="419.8" y2="452"/>
<line x1="430.3" y1="382.6" x2="430.3" y2="452"/>
<line x1="400.2" y1="385.6" x2="433.5" y2="385.6"/>
<line x1="400.2" y1="449" x2="433.5" y2="449"/>
<line x1="400.2" y1="397.8" x2="422.5" y2="397.8"/>
<line x1="400.2" y1="422.8" x2="422.5" y2="422.8"/>
<line x1="400.2" y1="400.9" x2="408.5" y2="400.9"/>
<line x1="400.2" y1="419.7" x2="408.5" y2="419.7"/>
<line x1="404.5" y1="386.9" x2="407.1" y2="384.3" stroke-width="1.1"/>
<line x1="404.5" y1="399.1" x2="407.1" y2="396.5" stroke-width="1.1"/>
<line x1="404.5" y1="402.2" x2="407.1" y2="399.6" stroke-width="1.1"/>
<line x1="404.5" y1="421" x2="407.1" y2="418.4" stroke-width="1.1"/>
<line x1="404.5" y1="424.1" x2="407.1" y2="421.5" stroke-width="1.1"/>
<line x1="404.5" y1="450.3" x2="407.1" y2="447.7" stroke-width="1.1"/>
<line x1="418.5" y1="386.9" x2="421.1" y2="384.3" stroke-width="1.1"/>
<line x1="418.5" y1="399.1" x2="421.1" y2="396.5" stroke-width="1.1"/>
<line x1="418.5" y1="424.1" x2="421.1" y2="421.5" stroke-width="1.1"/>
<line x1="418.5" y1="450.3" x2="421.1" y2="447.7" stroke-width="1.1"/>
<line x1="429" y1="386.9" x2="431.6" y2="384.3" stroke-width="1.1"/>
<line x1="429" y1="450.3" x2="431.6" y2="447.7" stroke-width="1.1"/>
<text transform="translate(404.4 391.8) rotate(-90) scale(0.86 1)" font-size="5.93" text-anchor="middle">100</text>
<text transform="translate(404.4 399.4) rotate(-90) scale(0.86 1)" font-size="4.33" text-anchor="middle">25</text>
<text transform="translate(404.4 410.4) rotate(-90) scale(0.86 1)" font-size="5.93" text-anchor="middle">150</text>
<text transform="translate(404.4 421.4) rotate(-90) scale(0.86 1)" font-size="4.33" text-anchor="middle">25</text>
<text transform="translate(404.4 436) rotate(-90) scale(0.86 1)" font-size="5.93" text-anchor="middle">200</text>
<text transform="translate(418.4 391.8) rotate(-90) scale(0.86 1)" font-size="5.93" text-anchor="middle">100</text>
<text transform="translate(418.4 410.4) rotate(-90) scale(0.86 1)" font-size="5.93" text-anchor="middle">200</text>
<text transform="translate(418.4 436) rotate(-90) scale(0.86 1)" font-size="5.93" text-anchor="middle">200</text>
<text transform="translate(428.9 417.5) rotate(-90) scale(0.86 1)" font-size="5.93" text-anchor="middle">500</text>
<circle cx="444.4" cy="458.2" r="5.8" fill="none" stroke-width="1"/>
<text transform="translate(444.4 461.4) scale(1.25 1)" font-size="8.66" text-anchor="middle">4</text>
<text transform="translate(460.6 456.6) scale(0.89 1)" x="0 10.79 21.57 32.36 43.15 53.93 65.51 72.27 83.84" font-size="10.75" class="ti">花池壁立面装?大?</text>
<line x1="460.4" y1="460.6" x2="541" y2="460.6" class="t"/>
<line x1="460.4" y1="462.4" x2="541" y2="462.4"/>
<text transform="translate(538 467.4)" font-size="8" class="sr">1:15</text>
<polygon points="391.6,96 402,96 402,146.2 406.6,146.2 406.6,156.8 386.5,156.8 386.5,146.2 391.6,146.2" fill="url(#diag)"/>
<rect x="383.7" y="156.8" width="25.6" height="6.9" fill="url(#conc)"/>
<rect x="383.7" y="163.7" width="25.6" height="4.1" fill="#fff"/>
<circle cx="385.83" cy="165.75" r="1.7" fill="none" stroke-width="0.55"/>
<circle cx="390.1" cy="165.75" r="1.7" fill="none" stroke-width="0.55"/>
<circle cx="394.37" cy="165.75" r="1.7" fill="none" stroke-width="0.55"/>
<circle cx="398.63" cy="165.75" r="1.7" fill="none" stroke-width="0.55"/>
<circle cx="402.9" cy="165.75" r="1.7" fill="none" stroke-width="0.55"/>
<circle cx="407.17" cy="165.75" r="1.7" fill="none" stroke-width="0.55"/>
<rect x="387.2" y="92.4" width="18.9" height="3.5" fill="url(#stone)"/>
<rect x="387.2" y="95.9" width="4.4" height="26" fill="url(#stone)"/>
<rect x="401.8" y="95.9" width="4.3" height="5.7" fill="url(#stone)"/>
<line x1="342" y1="122.2" x2="391.4" y2="122.2" stroke-width="1.5"/>
<line x1="406.4" y1="96" x2="436.4" y2="96"/>
<polygon points="421.9,96 427.1,96 424.5,99.2" fill="#333"/>
<polygon points="430.8,96 436,96 433.4,99.2" fill="#333"/>
<polyline points="426.5,99 426.5,110.8 435.5,110.8" fill="none"/>
<text transform="translate(436.5 112.8)" font-size="4.8"><tspan dx="0.41">?</tspan><tspan dx="0.41">藏</tspan>土</text>
<line x1="416.5" y1="90.5" x2="416.5" y2="104.8"/>
<line x1="406" y1="92.7" x2="419.5" y2="92.7"/>
<line x1="406" y1="102.7" x2="419.5" y2="102.7"/>
<line x1="415.2" y1="94" x2="417.8" y2="91.4" stroke-width="1.1"/>
<line x1="415.2" y1="104" x2="417.8" y2="101.4" stroke-width="1.1"/>
<text transform="translate(415 97.7) rotate(-90) scale(0.86 1)" font-size="4.79" text-anchor="middle">100</text>
<circle cx="423" cy="83.5" r="5" fill="#fff"/>
<line x1="418.1" y1="84" x2="427.9" y2="84"/>
<text transform="translate(423 83) scale(0.86 1)" font-size="5.93" text-anchor="middle">a</text>
<line x1="420.6" y1="86.6" x2="425.4" y2="86.6" stroke-width="0.5"/>
<path d="M418.6 86C412 86.5 409 88 406.6 90.4" fill="none"/>
<circle cx="404.3" cy="92" r="2.7" fill="none"/>
<line x1="385.1" y1="76.4" x2="407.4" y2="76.4"/>
<line x1="387.1" y1="74" x2="387.1" y2="90.4"/>
<line x1="405.4" y1="74" x2="405.4" y2="90.4"/>
<line x1="385.8" y1="77.7" x2="388.4" y2="75.1" stroke-width="1.1"/>
<line x1="404.1" y1="77.7" x2="406.7" y2="75.1" stroke-width="1.1"/>
<text transform="translate(396 75.2) scale(0.86 1)" font-size="5.93" text-anchor="middle">220</text>
<text transform="translate(362.6 73.2)" font-size="5.2">台<tspan dx="0.44">?</tspan></text>
<polyline points="370.6,71 379.4,71 379.4,102.2" fill="none"/>
<line x1="393.2" y1="55" x2="393.2" y2="92.7"/>
<line x1="393.2" y1="55" x2="402" y2="55"/>
<line x1="393.2" y1="63.4" x2="402" y2="63.4"/>
<line x1="393.2" y1="70.4" x2="402" y2="70.4"/>
<text transform="translate(403.2 48.8)" font-size="4.8"><tspan dx="0.41">?</tspan><tspan dx="0.41"> </tspan>600  20厚</text>
<text transform="translate(445.8 48.8)" font-size="4.8">,<tspan dx="0.41">?</tspan><tspan dx="0.41">浆</tspan><tspan dx="0.41">?</tspan><tspan dx="0.82">?</tspan><tspan dx="0.82">?</tspan><tspan dx="0.41">注</tspan></text>
<text transform="translate(403.2 57)" font-size="4.8">磨光芝麻白花<tspan dx="0.41">?</tspan><tspan dx="0.41">岩</tspan>石材面<tspan dx="0.41">?</tspan><tspan dx="0.41">擦</tspan><tspan dx="0.41">?</tspan><tspan dx="0.41">,</tspan></text>
<text transform="translate(403.2 64.6)" font-size="4.8">30  1厚2.5</text>
<text transform="translate(445.8 64.6)" font-size="4.8">水泥砂<tspan dx="0.41">?</tspan></text>
<text transform="translate(403.2 72)" font-size="4.8">M5砂<tspan dx="0.41">?</tspan><tspan dx="0.41">砌</tspan>Mu7.5</text>
<text transform="translate(452.8 72) scale(0.86 1)" font-size="5.93">?.</text>
<line x1="350.4" y1="90.6" x2="350.4" y2="124"/>
<line x1="357.6" y1="90.6" x2="357.6" y2="103.6"/>
<line x1="366" y1="93.6" x2="366" y2="168.5"/>
<line x1="348.4" y1="92" x2="358.6" y2="92"/>
<line x1="361.8" y1="95.6" x2="388.8" y2="95.6"/>
<line x1="342" y1="102.2" x2="379.4" y2="102.2"/>
<line x1="342" y1="112.4" x2="386.5" y2="112.4"/>
<line x1="349.1" y1="93.3" x2="351.7" y2="90.7" stroke-width="1.1"/>
<line x1="349.1" y1="123.9" x2="351.7" y2="121.3" stroke-width="1.1"/>
<line x1="356.3" y1="93.3" x2="358.9" y2="90.7" stroke-width="1.1"/>
<line x1="356.3" y1="103.5" x2="358.9" y2="100.9" stroke-width="1.1"/>
<line x1="364.7" y1="96.9" x2="367.3" y2="94.3" stroke-width="1.1"/>
<line x1="364.7" y1="123.9" x2="367.3" y2="121.3" stroke-width="1.1"/>
<line x1="364.7" y1="147.5" x2="367.3" y2="144.9" stroke-width="1.1"/>
<line x1="364.7" y1="158.1" x2="367.3" y2="155.5" stroke-width="1.1"/>
<line x1="364.7" y1="165.9" x2="367.3" y2="163.3" stroke-width="1.1"/>
<line x1="360" y1="146.2" x2="379" y2="146.2"/>
<line x1="360" y1="156.8" x2="386.4" y2="156.8"/>
<line x1="360" y1="164.6" x2="383.9" y2="164.6"/>
<text transform="translate(355.8 97.2) rotate(-90) scale(0.86 1)" font-size="5.93" text-anchor="middle">120</text>
<text transform="translate(348.6 107.4) rotate(-90) scale(0.86 1)" font-size="5.93" text-anchor="middle">360</text>
<text transform="translate(364.4 109) rotate(-90) scale(0.86 1)" font-size="5.93" text-anchor="middle">240</text>
<text transform="translate(364.4 133.5) rotate(-90) scale(0.86 1)" font-size="5.93" text-anchor="middle">290</text>
<text transform="translate(364.4 151.2) rotate(-90) scale(0.86 1)" font-size="5.93" text-anchor="middle">120</text>
<text transform="translate(364.4 161.4) rotate(-90) scale(0.86 1)" font-size="5.02" text-anchor="middle">200</text>
<line x1="383.9" y1="167.6" x2="383.9" y2="196.6"/>
<line x1="409.7" y1="167.6" x2="409.7" y2="196.6"/>
<line x1="387.1" y1="167.6" x2="387.1" y2="188"/>
<line x1="406.4" y1="167.6" x2="406.4" y2="188"/>
<line x1="391.4" y1="167.6" x2="391.4" y2="180"/>
<line x1="402.7" y1="167.6" x2="402.7" y2="180"/>
<line x1="382" y1="177.1" x2="411.5" y2="177.1"/>
<line x1="385" y1="185.3" x2="408.5" y2="185.3"/>
<line x1="382" y1="194.3" x2="411.5" y2="194.3"/>
<line x1="385.8" y1="178.4" x2="388.4" y2="175.8" stroke-width="1.1"/>
<line x1="390.1" y1="178.4" x2="392.7" y2="175.8" stroke-width="1.1"/>
<line x1="401.4" y1="178.4" x2="404" y2="175.8" stroke-width="1.1"/>
<line x1="405.1" y1="178.4" x2="407.7" y2="175.8" stroke-width="1.1"/>
<line x1="385.8" y1="186.6" x2="388.4" y2="184" stroke-width="1.1"/>
<line x1="405.1" y1="186.6" x2="407.7" y2="184" stroke-width="1.1"/>
<line x1="382.6" y1="195.6" x2="385.2" y2="193" stroke-width="1.1"/>
<line x1="408.4" y1="195.6" x2="411" y2="193" stroke-width="1.1"/>
<text transform="translate(396.8 176) scale(0.86 1)" font-size="5.02" text-anchor="middle">60120060</text>
<text transform="translate(396.8 184.2) scale(0.86 1)" font-size="5.93" text-anchor="middle">240</text>
<text transform="translate(396.8 193.2) scale(0.86 1)" font-size="5.93" text-anchor="middle">300</text>
<path d="M409.7 160.2C413 160.2 413 160.4 416.8 160.4M409.7 165.8C413 165.8 413 167.4 416.8 167.4" fill="none"/>
<text transform="translate(417.8 162)" font-size="4.6">C10混凝土</text>
<text transform="translate(417.8 169.2)" font-size="4.8">素土<tspan dx="0.41">?</tspan><tspan dx="0.82">?</tspan></text>
<polygon points="449.6,187.4 463.2,187.4 463.2,191.4 447,191.4" fill="url(#stone)"/>
<text transform="translate(450.6 176.6) rotate(-90) scale(0.86 1)" font-size="4.56" text-anchor="middle">10</text>
<line x1="449" y1="179" x2="449" y2="183.4"/>
<line x1="451" y1="179" x2="451" y2="183.4"/>
<line x1="447.8" y1="180.6" x2="452.2" y2="180.6" stroke-width="1"/>
<text transform="translate(436.2 190.6) scale(0.86 1)" font-size="5.93">2</text>
<line x1="439" y1="187.6" x2="442.6" y2="187.6"/>
<line x1="439" y1="189.6" x2="442.6" y2="189.6"/>
<line x1="440.8" y1="185.6" x2="440.8" y2="191.2"/>
<circle cx="454.6" cy="207" r="6" fill="none"/>
<text transform="translate(454.6 208.6) scale(1.1 1)" font-size="10.26" text-anchor="middle">a</text>
<line x1="452" y1="212" x2="457.2" y2="212" stroke-width="0.6"/>
<circle cx="351.3" cy="226.6" r="5.8" fill="none" stroke-width="1"/>
<text transform="translate(351.3 229.8) scale(1.25 1)" font-size="8.66" text-anchor="middle">1</text>
<text transform="translate(367 226.4) scale(0.89 1)" x="0 10.79 21.57 32.36 43.93 50.7" font-size="10.75" class="ti">花池壁大?一</text>
<line x1="366.8" y1="229.5" x2="412.8" y2="229.5" class="t"/>
<line x1="366.8" y1="231.3" x2="412.8" y2="231.3"/>
<text transform="translate(412.6 233.6)" font-size="8" class="sr">1:15</text>
<rect x="508.5" y="89.6" width="14.8" height="71" fill="url(#diag2)"/>
<rect x="546.5" y="89.6" width="14.8" height="71" fill="url(#diag2)"/>
<rect x="523.3" y="97" width="23.2" height="63.6" fill="url(#dots2)"/>
<rect x="523.3" y="89.6" width="23.2" height="6" fill="url(#conc)"/>
<line x1="523.3" y1="97.2" x2="546.5" y2="97.2" stroke-dasharray="1.2 0.8" stroke-width="1.2"/>
<rect x="497.6" y="86.6" width="74.6" height="3" fill="url(#stone)"/>
<polygon points="563.6,89.6 561.3,89.6 561.3,135.4 563.6,135.4" fill="url(#stone)"/>
<polygon points="572,89.6 563.6,89.6 563.6,96.3 572,96.3" fill="url(#stone)"/>
<polygon points="572,127.2 563.6,127.2 563.6,135.4 572,135.4" fill="url(#stone)"/>
<path d="M572 96.3L570.4 97.6C570.2 99 566.4 101 566 102.4V121C566.2 123 569.4 125 570.6 125.8L572 127.2" fill="none"/>
<line x1="563.6" y1="96.3" x2="563.6" y2="127.2"/>
<polygon points="506.2,89.6 508.5,89.6 508.5,135.4 506.2,135.4" fill="url(#stone)"/>
<polygon points="497.8,89.6 506.2,89.6 506.2,96.3 497.8,96.3" fill="url(#stone)"/>
<polygon points="497.8,127.2 506.2,127.2 506.2,135.4 497.8,135.4" fill="url(#stone)"/>
<path d="M497.8 96.3L499.4 97.6C499.6 99 503.4 101 503.8 102.4V121C503.6 123 500.4 125 499.2 125.8L497.8 127.2" fill="none"/>
<line x1="506.2" y1="96.3" x2="506.2" y2="127.2"/>
<line x1="476" y1="136.5" x2="508.5" y2="136.5" stroke-width="1.3"/>
<line x1="561.3" y1="136.5" x2="600" y2="136.5" stroke-width="1.3"/>
<rect x="502.6" y="160.6" width="64.6" height="7.5" fill="url(#conc)"/>
<rect x="502.6" y="168.1" width="64.6" height="3.3" fill="#fff"/>
<circle cx="504.22" cy="169.75" r="1.3" fill="none" stroke-width="0.55"/>
<circle cx="507.45" cy="169.75" r="1.3" fill="none" stroke-width="0.55"/>
<circle cx="510.68" cy="169.75" r="1.3" fill="none" stroke-width="0.55"/>
<circle cx="513.9" cy="169.75" r="1.3" fill="none" stroke-width="0.55"/>
<circle cx="517.13" cy="169.75" r="1.3" fill="none" stroke-width="0.55"/>
<circle cx="520.37" cy="169.75" r="1.3" fill="none" stroke-width="0.55"/>
<circle cx="523.6" cy="169.75" r="1.3" fill="none" stroke-width="0.55"/>
<circle cx="526.83" cy="169.75" r="1.3" fill="none" stroke-width="0.55"/>
<circle cx="530.06" cy="169.75" r="1.3" fill="none" stroke-width="0.55"/>
<circle cx="533.29" cy="169.75" r="1.3" fill="none" stroke-width="0.55"/>
<circle cx="536.51" cy="169.75" r="1.3" fill="none" stroke-width="0.55"/>
<circle cx="539.75" cy="169.75" r="1.3" fill="none" stroke-width="0.55"/>
<circle cx="542.98" cy="169.75" r="1.3" fill="none" stroke-width="0.55"/>
<circle cx="546.21" cy="169.75" r="1.3" fill="none" stroke-width="0.55"/>
<circle cx="549.44" cy="169.75" r="1.3" fill="none" stroke-width="0.55"/>
<circle cx="552.67" cy="169.75" r="1.3" fill="none" stroke-width="0.55"/>
<circle cx="555.9" cy="169.75" r="1.3" fill="none" stroke-width="0.55"/>
<circle cx="559.12" cy="169.75" r="1.3" fill="none" stroke-width="0.55"/>
<circle cx="562.36" cy="169.75" r="1.3" fill="none" stroke-width="0.55"/>
<circle cx="565.59" cy="169.75" r="1.3" fill="none" stroke-width="0.55"/>
<line x1="506" y1="179.4" x2="563.5" y2="179.4"/>
<line x1="508.5" y1="171.4" x2="508.5" y2="182.4"/>
<line x1="507.2" y1="180.7" x2="509.8" y2="178.1" stroke-width="1.1"/>
<line x1="523.3" y1="171.4" x2="523.3" y2="182.4"/>
<line x1="522" y1="180.7" x2="524.6" y2="178.1" stroke-width="1.1"/>
<line x1="546.5" y1="171.4" x2="546.5" y2="182.4"/>
<line x1="545.2" y1="180.7" x2="547.8" y2="178.1" stroke-width="1.1"/>
<line x1="561.3" y1="171.4" x2="561.3" y2="182.4"/>
<line x1="560" y1="180.7" x2="562.6" y2="178.1" stroke-width="1.1"/>
<line x1="500.5" y1="185.8" x2="569.5" y2="185.8"/>
<line x1="502.6" y1="171.4" x2="502.6" y2="189.5"/>
<line x1="501.3" y1="187.1" x2="503.9" y2="184.5" stroke-width="1.1"/>
<line x1="567.2" y1="171.4" x2="567.2" y2="189.5"/>
<line x1="565.9" y1="187.1" x2="568.5" y2="184.5" stroke-width="1.1"/>
<text transform="translate(515.9 178.2) scale(0.86 1)" font-size="5.93" text-anchor="middle">240</text>
<text transform="translate(534.9 178.2) scale(0.86 1)" font-size="5.93" text-anchor="middle">360</text>
<text transform="translate(553.9 178.2) scale(0.86 1)" font-size="5.93" text-anchor="middle">240</text>
<text transform="translate(534.9 184.9) scale(0.86 1)" font-size="5.93" text-anchor="middle">1040</text>
<line x1="501.1" y1="155.2" x2="510" y2="155.2"/>
<line x1="502.6" y1="152" x2="502.6" y2="160.6"/>
<line x1="508.5" y1="152" x2="508.5" y2="157.5"/>
<line x1="501.3" y1="156.5" x2="503.9" y2="153.9" stroke-width="1.1"/>
<line x1="507.2" y1="156.5" x2="509.8" y2="153.9" stroke-width="1.1"/>
<text transform="translate(505.2 153.6) scale(0.86 1)" font-size="5.02" text-anchor="middle">100</text>
<line x1="559.8" y1="155.2" x2="568.7" y2="155.2"/>
<line x1="561.3" y1="152" x2="561.3" y2="160.6"/>
<line x1="567.2" y1="152" x2="567.2" y2="157.5"/>
<line x1="560" y1="156.5" x2="562.6" y2="153.9" stroke-width="1.1"/>
<line x1="565.9" y1="156.5" x2="568.5" y2="153.9" stroke-width="1.1"/>
<text transform="translate(564.4 153.6) scale(0.86 1)" font-size="5.02" text-anchor="middle">100</text>
<line x1="494.5" y1="68.1" x2="575.5" y2="68.1"/>
<line x1="496.3" y1="65" x2="496.3" y2="81.6"/>
<line x1="495" y1="69.4" x2="497.6" y2="66.8" stroke-width="1.1"/>
<line x1="495" y1="76.9" x2="497.6" y2="74.3" stroke-width="1.1"/>
<line x1="573.4" y1="65" x2="573.4" y2="81.6"/>
<line x1="572.1" y1="69.4" x2="574.7" y2="66.8" stroke-width="1.1"/>
<line x1="572.1" y1="76.9" x2="574.7" y2="74.3" stroke-width="1.1"/>
<text transform="translate(534.9 66.9) scale(0.86 1)" font-size="5.93" text-anchor="middle">1200</text>
<line x1="494.5" y1="75.6" x2="509" y2="75.6"/>
<line x1="560.8" y1="75.6" x2="575.5" y2="75.6"/>
<line x1="507.1" y1="72.8" x2="507.1" y2="82.2"/>
<line x1="505.8" y1="76.9" x2="508.4" y2="74.3" stroke-width="1.1"/>
<line x1="562.7" y1="72.8" x2="562.7" y2="82.2"/>
<line x1="561.4" y1="76.9" x2="564" y2="74.3" stroke-width="1.1"/>
<text transform="translate(501.5 74.4) scale(0.86 1)" font-size="5.93" text-anchor="middle">150</text>
<text transform="translate(568.2 74.4) scale(0.86 1)" font-size="5.93" text-anchor="middle">150</text>
<line x1="554" y1="44.3" x2="554" y2="86.6"/>
<line x1="554" y1="44.3" x2="562" y2="44.3"/>
<line x1="554" y1="52.4" x2="562" y2="52.4"/>
<line x1="554" y1="59.2" x2="562" y2="59.2"/>
<text transform="translate(563.2 46)" font-size="4.8"><tspan dx="0.41">?</tspan><tspan dx="0.41">石</tspan>花<tspan dx="0.41">?</tspan><tspan dx="0.41">岩</tspan>石材,浮雕<tspan dx="0.41">?</tspan><tspan dx="0.41">案</tspan></text>
<text transform="translate(563.2 53.8)" font-size="4.8">30  1厚2.5</text>
<text transform="translate(603.4 53.8)" font-size="4.8">水泥砂<tspan dx="0.41">?</tspan></text>
<text transform="translate(563.2 60.8)" font-size="4.8">M5砂<tspan dx="0.41">?</tspan><tspan dx="0.41">砌</tspan>Mu7.5</text>
<text transform="translate(611.6 60.8) scale(0.86 1)" font-size="5.93">?.</text>
<line x1="490" y1="84" x2="490" y2="138"/>
<line x1="489" y1="87.6" x2="491" y2="85.6" stroke-width="1.1"/>
<line x1="487.5" y1="86.6" x2="493.5" y2="86.6" stroke-width="0.6"/>
<line x1="489" y1="90.6" x2="491" y2="88.6" stroke-width="1.1"/>
<line x1="487.5" y1="89.6" x2="493.5" y2="89.6" stroke-width="0.6"/>
<line x1="489" y1="95.8" x2="491" y2="93.8" stroke-width="1.1"/>
<line x1="487.5" y1="94.8" x2="493.5" y2="94.8" stroke-width="0.6"/>
<line x1="489" y1="100.3" x2="491" y2="98.3" stroke-width="1.1"/>
<line x1="487.5" y1="99.3" x2="493.5" y2="99.3" stroke-width="0.6"/>
<line x1="489" y1="103.4" x2="491" y2="101.4" stroke-width="1.1"/>
<line x1="487.5" y1="102.4" x2="493.5" y2="102.4" stroke-width="0.6"/>
<line x1="489" y1="122" x2="491" y2="120" stroke-width="1.1"/>
<line x1="487.5" y1="121" x2="493.5" y2="121" stroke-width="0.6"/>
<line x1="489" y1="126.6" x2="491" y2="124.6" stroke-width="1.1"/>
<line x1="487.5" y1="125.6" x2="493.5" y2="125.6" stroke-width="0.6"/>
<line x1="489" y1="128.8" x2="491" y2="126.8" stroke-width="1.1"/>
<line x1="487.5" y1="127.8" x2="493.5" y2="127.8" stroke-width="0.6"/>
<line x1="489" y1="137.5" x2="491" y2="135.5" stroke-width="1.1"/>
<line x1="487.5" y1="136.5" x2="493.5" y2="136.5" stroke-width="0.6"/>
<line x1="490" y1="86.6" x2="497.6" y2="86.6" stroke-width="0.6"/>
<line x1="490" y1="102.4" x2="499" y2="102.4" stroke-width="0.6"/>
<line x1="490" y1="121" x2="499" y2="121" stroke-width="0.6"/>
<line x1="490" y1="127.8" x2="497.6" y2="127.8" stroke-width="0.6"/>
<text transform="translate(488.4 81.6) rotate(-90) scale(0.86 1)" font-size="4.33" text-anchor="middle">30</text>
<text transform="translate(488.4 90.2) rotate(-90) scale(0.86 1)" font-size="4.33" text-anchor="middle">20</text>
<text transform="translate(488.4 97.2) rotate(-90) scale(0.86 1)" font-size="4.33" text-anchor="middle">30</text>
<text transform="translate(488.4 101.4) rotate(-90) scale(0.86 1)" font-size="4.33" text-anchor="middle">70</text>
<text transform="translate(488.4 111.6) rotate(-90) scale(0.86 1)" font-size="4.33" text-anchor="middle">300</text>
<text transform="translate(488.4 122.8) rotate(-90) scale(0.86 1)" font-size="4.33" text-anchor="middle">25</text>
<text transform="translate(488.4 127.2) rotate(-90) scale(0.86 1)" font-size="4.33" text-anchor="middle">30</text>
<text transform="translate(488.4 132.6) rotate(-90) scale(0.86 1)" font-size="4.33" text-anchor="middle">50</text>
<text transform="translate(494.4 104.6) scale(0.86 1)" font-size="4.33" text-anchor="middle">30</text>
<line x1="492.4" y1="105.6" x2="503.8" y2="105.6" stroke-width="0.6"/>
<line x1="496.7" y1="106.5" x2="498.5" y2="104.7" stroke-width="1.1"/>
<line x1="502.9" y1="106.5" x2="504.7" y2="104.7" stroke-width="1.1"/>
<line x1="591" y1="84" x2="591" y2="162.6"/>
<line x1="597.8" y1="84" x2="597.8" y2="139"/>
<line x1="574" y1="86.6" x2="600" y2="86.6"/>
<line x1="577" y1="96.3" x2="593.5" y2="96.3"/>
<line x1="589.7" y1="87.9" x2="592.3" y2="85.3" stroke-width="1.1"/>
<line x1="589.7" y1="97.6" x2="592.3" y2="95" stroke-width="1.1"/>
<line x1="589.7" y1="137.8" x2="592.3" y2="135.2" stroke-width="1.1"/>
<line x1="596.5" y1="87.9" x2="599.1" y2="85.3" stroke-width="1.1"/>
<line x1="596.5" y1="137.8" x2="599.1" y2="135.2" stroke-width="1.1"/>
<text transform="translate(589.4 92) rotate(-90) scale(0.86 1)" font-size="4.56" text-anchor="middle">120</text>
<text transform="translate(589.4 116) rotate(-90) scale(0.86 1)" font-size="5.93" text-anchor="middle">740</text>
<text transform="translate(596.2 112) rotate(-90) scale(0.86 1)" font-size="5.93" text-anchor="middle">860</text>
<line x1="589.7" y1="161.9" x2="592.3" y2="159.3" stroke-width="1.1"/>
<line x1="589.7" y1="169.4" x2="592.3" y2="166.8" stroke-width="1.1"/>
<line x1="586" y1="160.6" x2="594" y2="160.6"/>
<line x1="567.2" y1="168.1" x2="594" y2="168.1"/>
<line x1="591" y1="158" x2="591" y2="171"/>
<text transform="translate(589.4 149) rotate(-90) scale(0.86 1)" font-size="5.93" text-anchor="middle">400</text>
<text transform="translate(589.4 164.6) rotate(-90) scale(0.86 1)" font-size="4.56" text-anchor="middle">100</text>
<line x1="602.4" y1="97.6" x2="602.4" y2="123"/>
<line x1="602.4" y1="97.6" x2="609.6" y2="97.6"/>
<line x1="602.4" y1="108.6" x2="609.6" y2="108.6"/>
<line x1="602.4" y1="115.6" x2="609.6" y2="115.6"/>
<line x1="602.4" y1="123" x2="609.6" y2="123"/>
<text transform="translate(610.4 99.4)" font-size="4.8">50~150厚花<tspan dx="0.41">?</tspan><tspan dx="0.41">岩</tspan>石材,水泥<tspan dx="0.41">?</tspan><tspan dx="0.41">擦</tspan><tspan dx="0.41">?</tspan></text>
<text transform="translate(606.6 110)" font-size="4.6">素黑漆涂胶</text>
<text transform="translate(633 106.6) scale(0.86 1)" font-size="4.79">16</text>
<text transform="translate(642 110)" font-size="4.8">号<tspan dx="0.41">?</tspan><tspan dx="0.82">?</tspan><tspan dx="0.82">?</tspan><tspan dx="0.41">孔</tspan>,与<tspan dx="0.41">?</tspan><tspan dx="0.41">体</tspan>固定</text>
<text transform="translate(610.4 117.4)" font-size="4.8">30  1厚2.5</text>
<text transform="translate(651.6 117.4)" font-size="4.8">水泥砂<tspan dx="0.41">?</tspan><tspan dx="0.41">,</tspan>分<tspan dx="0.41">?</tspan><tspan dx="0.41">灌</tspan>浆</text>
<text transform="translate(610.4 124.6)" font-size="4.8">M5砂<tspan dx="0.41">?</tspan><tspan dx="0.41">砌</tspan>Mu7.5</text>
<text transform="translate(658.6 124.6) scale(0.86 1)" font-size="5.93">?.</text>
<circle cx="540.2" cy="216.4" r="5.8" fill="none" stroke-width="1"/>
<text transform="translate(540.2 219.6) scale(1.25 1)" font-size="8.66" text-anchor="middle">2</text>
<text transform="translate(555.4 217.6) scale(0.89 1)" x="0.79 7.55 18.34 29.91 36.67 48.25" font-size="10.75" class="ti">?鼓石?大?</text>
<line x1="555.2" y1="220.4" x2="608.6" y2="220.4" class="t"/>
<line x1="555.2" y1="222.2" x2="608.6" y2="222.2"/>
<text transform="translate(611 224.4)" font-size="8" class="sr">1:20</text>
<text transform="translate(556.6 233.8)" font-size="6.3">注:<tspan dx="0.54">?</tspan><tspan dx="0.54">鼓</tspan>表面<tspan dx="0.54">?</tspan><tspan dx="0.54">案</tspan><tspan dx="0.54">?</tspan><tspan dx="0.54">行</tspan>出<tspan dx="0.54">?</tspan></text>
<polygon points="355,302.8 404.6,302.8 405.2,307.8 354.3,307.8" fill="url(#stone)"/>
<polygon points="360.2,302.8 361,300.3 398.2,300.3 399,302.8" fill="url(#stone)"/>
<text transform="translate(375.3 264.6)" font-size="4.8">磨光面</text>
<line x1="375.1" y1="265.7" x2="390" y2="265.7"/>
<line x1="375.1" y1="265.7" x2="375.1" y2="300.3"/>
<text transform="translate(354.4 268.4)" font-size="4.8"><tspan dx="0.41">?</tspan><tspan dx="0.41">毛</tspan>面</text>
<line x1="354.3" y1="269.7" x2="369.6" y2="269.7"/>
<line x1="369.6" y1="269.7" x2="369.6" y2="301"/>
<text transform="translate(376 273.9) scale(0.86 1)" font-size="5.93">200</text>
<line x1="352.4" y1="275.2" x2="406" y2="275.2"/>
<line x1="352.4" y1="282.7" x2="406" y2="282.7"/>
<line x1="354.3" y1="272.5" x2="354.3" y2="290.5"/>
<line x1="353" y1="276.5" x2="355.6" y2="273.9" stroke-width="1.1"/>
<line x1="353" y1="284" x2="355.6" y2="281.4" stroke-width="1.1"/>
<line x1="404.5" y1="272.5" x2="404.5" y2="290.5"/>
<line x1="403.2" y1="276.5" x2="405.8" y2="273.9" stroke-width="1.1"/>
<line x1="403.2" y1="284" x2="405.8" y2="281.4" stroke-width="1.1"/>
<line x1="360.2" y1="280.4" x2="360.2" y2="290.5"/>
<line x1="358.9" y1="284" x2="361.5" y2="281.4" stroke-width="1.1"/>
<line x1="399" y1="280.4" x2="399" y2="290.5"/>
<line x1="397.7" y1="284" x2="400.3" y2="281.4" stroke-width="1.1"/>
<text transform="translate(357.2 281.6) scale(0.86 1)" font-size="4.79" text-anchor="middle">25</text>
<text transform="translate(379.6 281.6) scale(0.86 1)" font-size="5.93" text-anchor="middle">150</text>
<text transform="translate(401.8 281.6) scale(0.86 1)" font-size="4.79" text-anchor="middle">25</text>
<text transform="translate(333 294.6)" font-size="4.8">花<tspan dx="0.41">?</tspan><tspan dx="0.41">面</tspan></text>
<polyline points="333,295.7 355,295.7 357.2,301.6" fill="none"/>
<line x1="415.2" y1="296.5" x2="415.2" y2="310.5"/>
<line x1="422.8" y1="296.5" x2="422.8" y2="310.5"/>
<line x1="406" y1="298.9" x2="425.5" y2="298.9"/>
<line x1="413.9" y1="300.2" x2="416.5" y2="297.6" stroke-width="1.1"/>
<line x1="406" y1="302.8" x2="425.5" y2="302.8"/>
<line x1="413.9" y1="304.1" x2="416.5" y2="301.5" stroke-width="1.1"/>
<line x1="406" y1="308.2" x2="425.5" y2="308.2"/>
<line x1="413.9" y1="309.5" x2="416.5" y2="306.9" stroke-width="1.1"/>
<line x1="421.5" y1="300.2" x2="424.1" y2="297.6" stroke-width="1.1"/>
<line x1="421.5" y1="309.5" x2="424.1" y2="306.9" stroke-width="1.1"/>
<text transform="translate(413.8 297.2) rotate(-90) scale(0.86 1)" font-size="4.33" text-anchor="middle">10</text>
<text transform="translate(413.8 305.6) rotate(-90) scale(0.86 1)" font-size="4.33" text-anchor="middle">20</text>
<text transform="translate(421.4 303.6) rotate(-90) scale(0.86 1)" font-size="4.79" text-anchor="middle">30</text>
<line x1="386.6" y1="296" x2="385" y2="299.8"/>
<text transform="translate(387.6 298.4) scale(0.86 1)" font-size="4.33">2</text>
<circle cx="380.8" cy="324.2" r="6.1" fill="none" stroke-width="1"/>
<text transform="translate(380.8 327.4) scale(1.15 1)" font-size="10.72" text-anchor="middle">b</text>
<line x1="454.5" y1="341.7" x2="510" y2="341.7" stroke-width="1.3"/>
<line x1="462" y1="297.2" x2="462" y2="341.7"/>
<line x1="459.5" y1="297.2" x2="469.5" y2="297.2"/>
<line x1="460.7" y1="298.5" x2="463.3" y2="295.9" stroke-width="1.1"/>
<line x1="460.7" y1="343" x2="463.3" y2="340.4" stroke-width="1.1"/>
<text transform="translate(460.4 320) rotate(-90) scale(0.86 1)" font-size="5.93" text-anchor="middle">530</text>
<line x1="471.7" y1="329" x2="471.7" y2="343.5"/>
<line x1="478.5" y1="329" x2="478.5" y2="343.5"/>
<line x1="486.7" y1="329" x2="486.7" y2="343.5"/>
<line x1="468.7" y1="330.8" x2="483" y2="330.8"/>
<line x1="482.2" y1="335" x2="500.2" y2="335"/>
<line x1="470.4" y1="332.1" x2="473" y2="329.5" stroke-width="1.1"/>
<line x1="477.2" y1="332.1" x2="479.8" y2="329.5" stroke-width="1.1"/>
<line x1="485.4" y1="336.3" x2="488" y2="333.7" stroke-width="1.1"/>
<line x1="470.4" y1="343" x2="473" y2="340.4" stroke-width="1.1"/>
<line x1="477.2" y1="343" x2="479.8" y2="340.4" stroke-width="1.1"/>
<line x1="485.4" y1="343" x2="488" y2="340.4" stroke-width="1.1"/>
<text transform="translate(470.2 336.6) rotate(-90) scale(0.86 1)" font-size="4.56" text-anchor="middle">120</text>
<text transform="translate(477 336.6) rotate(-90) scale(0.86 1)" font-size="4.56" text-anchor="middle">100</text>
<text transform="translate(485.2 338.6) rotate(-90) scale(0.86 1)" font-size="4.1" text-anchor="middle">15</text>
<line x1="486.7" y1="341.7" x2="486.7" y2="378.5"/>
<line x1="483.5" y1="355.2" x2="499.5" y2="355.2"/>
<line x1="485.4" y1="356.5" x2="488" y2="353.9" stroke-width="1.1"/>
<line x1="483.5" y1="365" x2="504.5" y2="365"/>
<line x1="485.4" y1="366.3" x2="488" y2="363.7" stroke-width="1.1"/>
<line x1="483.5" y1="372.6" x2="504.5" y2="372.6"/>
<line x1="485.4" y1="373.9" x2="488" y2="371.3" stroke-width="1.1"/>
<line x1="483.5" y1="377.2" x2="504.5" y2="377.2"/>
<line x1="485.4" y1="378.5" x2="488" y2="375.9" stroke-width="1.1"/>
<text transform="translate(485.2 348.6) rotate(-90) scale(0.86 1)" font-size="5.93" text-anchor="middle">170</text>
<text transform="translate(485.2 360.2) rotate(-90) scale(0.86 1)" font-size="4.79" text-anchor="middle">120</text>
<text transform="translate(485.2 371.4) rotate(-90) scale(0.86 1)" font-size="4.79" text-anchor="middle">200</text>
<polygon points="512.4,334.2 523,334.2 523,355.2 527.2,355.2 527.2,365 509,365 509,355.2 512.4,355.2" fill="url(#diag5)"/>
<rect x="504.7" y="365" width="25" height="7.6" fill="url(#conc)"/>
<rect x="504.7" y="372.6" width="25" height="4.6" fill="#fff"/>
<circle cx="507.2" cy="374.9" r="1.95" fill="none" stroke-width="0.55"/>
<circle cx="512.2" cy="374.9" r="1.95" fill="none" stroke-width="0.55"/>
<circle cx="517.2" cy="374.9" r="1.95" fill="none" stroke-width="0.55"/>
<circle cx="522.2" cy="374.9" r="1.95" fill="none" stroke-width="0.55"/>
<circle cx="527.2" cy="374.9" r="1.95" fill="none" stroke-width="0.55"/>
<rect x="507.7" y="331.2" width="20.3" height="3" fill="url(#stone)"/>
<rect x="507.7" y="334.2" width="3" height="7.5" fill="url(#stone)"/>
<rect x="523.6" y="334.2" width="4.4" height="7" fill="url(#stone)"/>
<line x1="510.7" y1="334.2" x2="510.7" y2="341.7"/>
<line x1="512.4" y1="341.7" x2="512.4" y2="355.2" stroke-width="0.5"/>
<line x1="507" y1="315.8" x2="528.8" y2="315.8"/>
<line x1="507.7" y1="313.6" x2="507.7" y2="330.6"/>
<line x1="528" y1="313.6" x2="528" y2="330.6"/>
<line x1="506.4" y1="317.1" x2="509" y2="314.5" stroke-width="1.1"/>
<line x1="526.7" y1="317.1" x2="529.3" y2="314.5" stroke-width="1.1"/>
<text transform="translate(517.4 314.4) scale(0.86 1)" font-size="5.93" text-anchor="middle">220</text>
<text transform="translate(525.8 290.2)" font-size="4.8">做法同右<tspan dx="0.41">?</tspan><tspan dx="0.41">花</tspan>池</text>
<polyline points="525.4,288.2 519.7,288.2 519.7,334" fill="none"/>
<circle cx="544.5" cy="322.2" r="4.5" fill="#fff"/>
<line x1="540.2" y1="322.6" x2="548.8" y2="322.6"/>
<text transform="translate(544.5 321.6) scale(0.86 1)" font-size="5.02" text-anchor="middle">b</text>
<line x1="542.4" y1="325" x2="546.6" y2="325" stroke-width="0.5"/>
<polyline points="540,322.4 535.5,322.4 527.6,329" fill="none"/>
<circle cx="525.7" cy="330.6" r="2.5" fill="none"/>
<line x1="537" y1="329.5" x2="537" y2="343.5"/>
<line x1="528" y1="331.2" x2="541.5" y2="331.2"/>
<line x1="528" y1="341.7" x2="541.5" y2="341.7"/>
<line x1="535.7" y1="332.5" x2="538.3" y2="329.9" stroke-width="1.1"/>
<line x1="535.7" y1="343" x2="538.3" y2="340.4" stroke-width="1.1"/>
<text transform="translate(535.4 336.6) rotate(-90) scale(0.86 1)" font-size="4.56" text-anchor="middle">100</text>
<line x1="538.5" y1="335.2" x2="588" y2="335.2"/>
<polygon points="546.1,335.2 550.5,335.2 548.3,338.1" fill="#333"/>
<polygon points="555.6,335.2 560,335.2 557.8,338.1" fill="#333"/>
<polygon points="563.2,335.2 567.6,335.2 565.4,338.1" fill="#333"/>
<polyline points="557.8,339 557.8,348.2 568,348.2" fill="none"/>
<text transform="translate(569 350)" font-size="4.8"><tspan dx="0.41">?</tspan><tspan dx="0.41">藏</tspan>土</text>
<line x1="504.7" y1="377.2" x2="504.7" y2="404.5"/>
<line x1="529.7" y1="377.2" x2="529.7" y2="404.5"/>
<line x1="509" y1="377.2" x2="509" y2="396"/>
<line x1="527.2" y1="377.2" x2="527.2" y2="396"/>
<line x1="512.4" y1="377.2" x2="512.4" y2="388.5"/>
<line x1="523" y1="377.2" x2="523" y2="388.5"/>
<line x1="502.8" y1="385.8" x2="531.6" y2="385.8"/>
<line x1="506.5" y1="393" x2="529.6" y2="393"/>
<line x1="502.8" y1="401.6" x2="531.6" y2="401.6"/>
<line x1="507.7" y1="387.1" x2="510.3" y2="384.5" stroke-width="1.1"/>
<line x1="511.1" y1="387.1" x2="513.7" y2="384.5" stroke-width="1.1"/>
<line x1="521.7" y1="387.1" x2="524.3" y2="384.5" stroke-width="1.1"/>
<line x1="525.9" y1="387.1" x2="528.5" y2="384.5" stroke-width="1.1"/>
<line x1="507.7" y1="394.3" x2="510.3" y2="391.7" stroke-width="1.1"/>
<line x1="525.9" y1="394.3" x2="528.5" y2="391.7" stroke-width="1.1"/>
<line x1="503.4" y1="402.9" x2="506" y2="400.3" stroke-width="1.1"/>
<line x1="528.4" y1="402.9" x2="531" y2="400.3" stroke-width="1.1"/>
<text transform="translate(517.4 384.7) scale(0.86 1)" font-size="5.02" text-anchor="middle">60120060</text>
<text transform="translate(517.4 391.9) scale(0.86 1)" font-size="5.93" text-anchor="middle">240</text>
<text transform="translate(517.4 400.5) scale(0.86 1)" font-size="5.93" text-anchor="middle">300</text>
<path d="M529.7 368.6C540 368.6 542 377 553.6 377M529.7 375C540 375 544 383.6 560 383.6" fill="none"/>
<path d="M577 377L585.4 375.6M581 383.4L585.4 381" fill="none"/>
<text transform="translate(555.4 378.8)" font-size="4.6">C10混凝土</text>
<text transform="translate(561.6 385.4)" font-size="4.8">素土<tspan dx="0.41">?</tspan><tspan dx="0.82">?</tspan></text>
<polygon points="591.5,301.4 602.5,301.4 602.5,320.4 612.6,320.4 612.6,361.3 617.3,361.3 617.3,372.1 588,372.1 588,361.3 594.2,361.3 594.2,337.7 591.5,337.7" fill="url(#diag5)"/>
<rect x="585.4" y="372.1" width="34.4" height="6.8" fill="url(#conc)"/>
<rect x="585.4" y="378.9" width="34.4" height="4.2" fill="#fff"/>
<circle cx="587.55" cy="381" r="1.75" fill="none" stroke-width="0.55"/>
<circle cx="591.85" cy="381" r="1.75" fill="none" stroke-width="0.55"/>
<circle cx="596.15" cy="381" r="1.75" fill="none" stroke-width="0.55"/>
<circle cx="600.45" cy="381" r="1.75" fill="none" stroke-width="0.55"/>
<circle cx="604.75" cy="381" r="1.75" fill="none" stroke-width="0.55"/>
<circle cx="609.05" cy="381" r="1.75" fill="none" stroke-width="0.55"/>
<circle cx="613.35" cy="381" r="1.75" fill="none" stroke-width="0.55"/>
<circle cx="617.65" cy="381" r="1.75" fill="none" stroke-width="0.55"/>
<rect x="588" y="298.1" width="17.5" height="3.3" fill="url(#stone)"/>
<rect x="588" y="301.4" width="3.5" height="36.3" fill="url(#stone)"/>
<rect x="602.5" y="301.4" width="3" height="5" fill="url(#stone)"/>
<rect x="592.6" y="311.4" width="9.6" height="5.2" fill="#fff" stroke="none"/>
<line x1="591.5" y1="316.8" x2="602.5" y2="316.8" stroke-width="0.6"/>
<text transform="translate(594 316) scale(0.86 1)" font-size="5.93">120</text>
<line x1="605.5" y1="306.4" x2="658" y2="306.4"/>
<polygon points="638.4,306.4 642.8,306.4 640.6,309.3" fill="#333"/>
<polygon points="647.1,306.4 651.5,306.4 649.3,309.3" fill="#333"/>
<text transform="translate(659.4 310.4)" font-size="4.8"><tspan dx="0.41">?</tspan><tspan dx="0.41">藏</tspan>土</text>
<path d="M612.6 336.6C618 336.6 620 331.6 626 331.6H635" fill="none"/>
<text transform="translate(636.8 334.8)" font-size="4.4">ø50排水孔</text>
<text transform="translate(636.8 340.6) scale(0.86 1)" font-size="5.02">@2000</text>
<line x1="613" y1="296" x2="613" y2="308.5"/>
<line x1="605.5" y1="298.1" x2="616" y2="298.1"/>
<line x1="611.7" y1="299.4" x2="614.3" y2="296.8" stroke-width="1.1"/>
<line x1="611.7" y1="307.7" x2="614.3" y2="305.1" stroke-width="1.1"/>
<text transform="translate(611.6 302.4) rotate(-90) scale(0.86 1)" font-size="4.56" text-anchor="middle">100</text>
<line x1="634.3" y1="299.5" x2="634.3" y2="384.5"/>
<line x1="633" y1="307.7" x2="635.6" y2="305.1" stroke-width="1.1"/>
<line x1="628" y1="306.4" x2="637" y2="306.4"/>
<line x1="633" y1="322.9" x2="635.6" y2="320.3" stroke-width="1.1"/>
<line x1="628" y1="321.6" x2="637" y2="321.6"/>
<line x1="633" y1="362.6" x2="635.6" y2="360" stroke-width="1.1"/>
<line x1="628" y1="361.3" x2="637" y2="361.3"/>
<line x1="633" y1="373.4" x2="635.6" y2="370.8" stroke-width="1.1"/>
<line x1="628" y1="372.1" x2="637" y2="372.1"/>
<line x1="633" y1="382.9" x2="635.6" y2="380.3" stroke-width="1.1"/>
<line x1="628" y1="381.6" x2="637" y2="381.6"/>
<line x1="617.3" y1="361.3" x2="637" y2="361.3"/>
<line x1="619.8" y1="372.1" x2="637" y2="372.1"/>
<text transform="translate(632.8 314) rotate(-90) scale(0.86 1)" font-size="5.93" text-anchor="middle">240</text>
<text transform="translate(632.8 343) rotate(-90) scale(0.86 1)" font-size="5.93" text-anchor="middle">480</text>
<text transform="translate(632.8 366.8) rotate(-90) scale(0.86 1)" font-size="4.79" text-anchor="middle">120</text>
<text transform="translate(632.8 377) rotate(-90) scale(0.86 1)" font-size="4.56" text-anchor="middle">100</text>
<line x1="576.7" y1="296" x2="576.7" y2="339.5"/>
<line x1="574" y1="298.1" x2="585.5" y2="298.1"/>
<line x1="575.4" y1="299.4" x2="578" y2="296.8" stroke-width="1.1"/>
<line x1="574" y1="306.4" x2="585.5" y2="306.4"/>
<line x1="575.4" y1="307.7" x2="578" y2="305.1" stroke-width="1.1"/>
<line x1="574" y1="322.7" x2="585.5" y2="322.7"/>
<line x1="575.4" y1="324" x2="578" y2="321.4" stroke-width="1.1"/>
<line x1="574" y1="336.5" x2="585.5" y2="336.5"/>
<line x1="575.4" y1="337.8" x2="578" y2="335.2" stroke-width="1.1"/>
<text transform="translate(575.2 302.4) rotate(-90) scale(0.86 1)" font-size="4.56" text-anchor="middle">100</text>
<text transform="translate(575.2 314.6) rotate(-90) scale(0.86 1)" font-size="5.93" text-anchor="middle">200</text>
<text transform="translate(575.2 329.6) rotate(-90) scale(0.86 1)" font-size="5.93" text-anchor="middle">200</text>
<line x1="587" y1="287.6" x2="608.2" y2="287.6"/>
<line x1="588" y1="285" x2="588" y2="296.4"/>
<line x1="605.5" y1="285" x2="605.5" y2="296.4"/>
<line x1="586.7" y1="288.9" x2="589.3" y2="286.3" stroke-width="1.1"/>
<line x1="604.2" y1="288.9" x2="606.8" y2="286.3" stroke-width="1.1"/>
<text transform="translate(596.8 286.4) scale(0.86 1)" font-size="5.93" text-anchor="middle">220</text>
<line x1="600.5" y1="262.6" x2="600.5" y2="298.1"/>
<line x1="600.5" y1="262.6" x2="608.4" y2="262.6"/>
<line x1="600.5" y1="271.3" x2="608.4" y2="271.3"/>
<line x1="600.5" y1="278.8" x2="608.4" y2="278.8"/>
<text transform="translate(610.5 256.4)" font-size="4.8"><tspan dx="0.41">?</tspan><tspan dx="0.41"> </tspan>600  20厚</text>
<text transform="translate(652.3 256.4)" font-size="4.8">,<tspan dx="0.41">?</tspan><tspan dx="0.41">浆</tspan><tspan dx="0.41">?</tspan><tspan dx="0.82">?</tspan><tspan dx="0.82">?</tspan><tspan dx="0.41">注</tspan></text>
<text transform="translate(610.5 264.7)" font-size="4.8">磨光芝麻白花<tspan dx="0.41">?</tspan><tspan dx="0.41">岩</tspan>石材面<tspan dx="0.41">?</tspan><tspan dx="0.41">擦</tspan><tspan dx="0.41">?</tspan><tspan dx="0.41">,</tspan></text>
<text transform="translate(610.5 272.2)" font-size="4.8">30  1厚2.5</text>
<text transform="translate(652.3 272.2)" font-size="4.8">水泥砂<tspan dx="0.41">?</tspan></text>
<text transform="translate(610.5 279.4)" font-size="4.8">M5砂<tspan dx="0.41">?</tspan><tspan dx="0.41">砌</tspan>Mu7.5</text>
<text transform="translate(660.6 279.4) scale(0.86 1)" font-size="5.93">?.</text>
<circle cx="560.4" cy="264.6" r="4.6" fill="#fff"/>
<line x1="556" y1="265" x2="564.8" y2="265"/>
<text transform="translate(560.4 264) scale(0.86 1)" font-size="5.02" text-anchor="middle">a</text>
<line x1="558.3" y1="267.4" x2="562.5" y2="267.4" stroke-width="0.5"/>
<polyline points="565,264.8 572.9,264.8 588.2,298" fill="none"/>
<line x1="585.4" y1="383.1" x2="585.4" y2="411"/>
<line x1="619.8" y1="383.1" x2="619.8" y2="411"/>
<line x1="588" y1="383.1" x2="588" y2="403.5"/>
<line x1="617.3" y1="383.1" x2="617.3" y2="403.5"/>
<line x1="594.2" y1="383.1" x2="594.2" y2="396.5"/>
<line x1="612.6" y1="383.1" x2="612.6" y2="396.5"/>
<line x1="583.5" y1="393.9" x2="621.7" y2="393.9"/>
<line x1="586" y1="400.8" x2="619.5" y2="400.8"/>
<line x1="583.5" y1="408.3" x2="621.7" y2="408.3"/>
<line x1="586.7" y1="395.2" x2="589.3" y2="392.6" stroke-width="1.1"/>
<line x1="592.9" y1="395.2" x2="595.5" y2="392.6" stroke-width="1.1"/>
<line x1="611.3" y1="395.2" x2="613.9" y2="392.6" stroke-width="1.1"/>
<line x1="616" y1="395.2" x2="618.6" y2="392.6" stroke-width="1.1"/>
<line x1="586.7" y1="402.1" x2="589.3" y2="399.5" stroke-width="1.1"/>
<line x1="616" y1="402.1" x2="618.6" y2="399.5" stroke-width="1.1"/>
<line x1="584.1" y1="409.6" x2="586.7" y2="407" stroke-width="1.1"/>
<line x1="618.5" y1="409.6" x2="621.1" y2="407" stroke-width="1.1"/>
<text transform="translate(603.4 392.8) scale(0.86 1)" font-size="5.93" text-anchor="middle">240</text>
<text transform="translate(591 392.8) scale(0.86 1)" font-size="4.33" text-anchor="middle">60</text>
<text transform="translate(615.4 392.8) scale(0.86 1)" font-size="4.33" text-anchor="middle">60</text>
<text transform="translate(603.4 399.7) scale(0.86 1)" font-size="5.93" text-anchor="middle">360</text>
<text transform="translate(603.4 407.2) scale(0.86 1)" font-size="5.93" text-anchor="middle">400</text>
<circle cx="515.2" cy="424" r="5.8" fill="none" stroke-width="1"/>
<text transform="translate(515.2 427.2) scale(1.25 1)" font-size="8.66" text-anchor="middle">5</text>
<text transform="translate(530.7 426.4) scale(0.89 1)" x="0 10.79 21.57 32.36 43.93 50.7" font-size="10.75" class="ti">花池壁大?二</text>
<line x1="530.5" y1="428.3" x2="584" y2="428.3" class="t"/>
<line x1="530.5" y1="430.1" x2="584" y2="430.1"/>
<text transform="translate(584 432)" font-size="8" class="sr">1:15</text>
</g>
</svg>
</body></html>
